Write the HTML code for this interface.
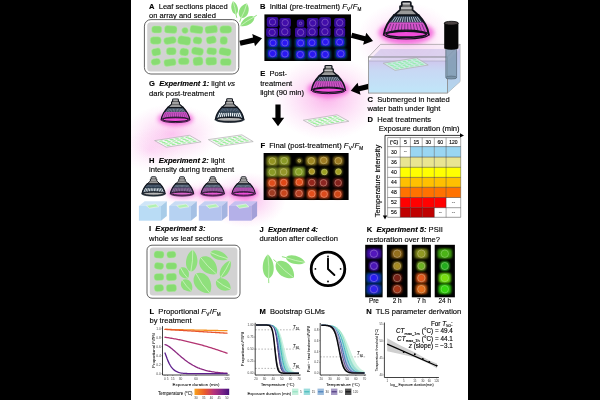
<!DOCTYPE html><html><head><meta charset="utf-8"><style>html,body{margin:0;padding:0;background:#000;}svg{display:block}text{font-family:"Liberation Sans",sans-serif;fill:#000;white-space:pre;stroke:#000;stroke-width:0.14px}text.t{stroke:none;fill:#3a3a3a}text.m{stroke-width:0.05px;fill:#111}</style></head><body>
<svg width="600" height="400" viewBox="0 0 600 400">
<defs>
<radialGradient id="gl"><stop offset="0" stop-color="#f65fd6" stop-opacity="0.46"/><stop offset="0.5" stop-color="#f67fdc" stop-opacity="0.24"/><stop offset="1" stop-color="#f8a0e4" stop-opacity="0"/></radialGradient>
<radialGradient id="gl2"><stop offset="0" stop-color="#ee30cc" stop-opacity="1"/><stop offset="0.55" stop-color="#f050d4" stop-opacity="0.75"/><stop offset="0.8" stop-color="#f488e0" stop-opacity="0.3"/><stop offset="1" stop-color="#f8a0e4" stop-opacity="0"/></radialGradient>
<filter id="b1" x="-30%" y="-30%" width="160%" height="160%"><feGaussianBlur stdDeviation="0.7"/></filter>
<filter id="b3" x="-50%" y="-80%" width="200%" height="260%"><feGaussianBlur stdDeviation="2.0"/></filter>
<filter id="b4" x="-30%" y="-30%" width="160%" height="160%"><feGaussianBlur stdDeviation="0.9"/></filter>
<filter id="b2" x="-30%" y="-30%" width="160%" height="160%"><feGaussianBlur stdDeviation="0.35"/></filter>
<clipPath id="cw"><rect x="131" y="0" width="337" height="400"/></clipPath>

<linearGradient id="lb0" x1="0" y1="0" x2="0" y2="1"><stop offset="0" stop-color="rgb(34, 50, 66)"/><stop offset="0.34" stop-color="rgb(38, 54, 72)"/><stop offset="0.46" stop-color="rgb(32, 52, 68)"/><stop offset="1" stop-color="rgb(32, 52, 68)"/></linearGradient>
<linearGradient id="lb25" x1="0" y1="0" x2="0" y2="1"><stop offset="0" stop-color="rgb(34, 50, 66)"/><stop offset="0.34" stop-color="rgb(38, 54, 72)"/><stop offset="0.46" stop-color="rgb(145, 72, 153)"/><stop offset="1" stop-color="rgb(145, 72, 153)"/></linearGradient>
<linearGradient id="lb50" x1="0" y1="0" x2="0" y2="1"><stop offset="0" stop-color="rgb(34, 50, 66)"/><stop offset="0.34" stop-color="rgb(38, 54, 72)"/><stop offset="0.46" stop-color="rgb(168, 76, 170)"/><stop offset="1" stop-color="rgb(168, 76, 170)"/></linearGradient>
<linearGradient id="lb60" x1="0" y1="0" x2="0" y2="1"><stop offset="0" stop-color="rgb(34, 50, 66)"/><stop offset="0.34" stop-color="rgb(38, 54, 72)"/><stop offset="0.46" stop-color="rgb(177, 77, 176)"/><stop offset="1" stop-color="rgb(177, 77, 176)"/></linearGradient>
<linearGradient id="lb80" x1="0" y1="0" x2="0" y2="1"><stop offset="0" stop-color="rgb(34, 50, 66)"/><stop offset="0.34" stop-color="rgb(38, 54, 72)"/><stop offset="0.46" stop-color="rgb(195, 80, 190)"/><stop offset="1" stop-color="rgb(195, 80, 190)"/></linearGradient>
<linearGradient id="lb85" x1="0" y1="0" x2="0" y2="1"><stop offset="0" stop-color="rgb(34, 50, 66)"/><stop offset="0.34" stop-color="rgb(38, 54, 72)"/><stop offset="0.46" stop-color="rgb(200, 81, 193)"/><stop offset="1" stop-color="rgb(200, 81, 193)"/></linearGradient>
<linearGradient id="lb100" x1="0" y1="0" x2="0" y2="1"><stop offset="0" stop-color="rgb(34, 50, 66)"/><stop offset="0.34" stop-color="rgb(38, 54, 72)"/><stop offset="0.46" stop-color="rgb(214, 84, 204)"/><stop offset="1" stop-color="rgb(214, 84, 204)"/></linearGradient>
</defs>
<rect width="600" height="400" fill="#000"/>
<rect x="131" y="0" width="337" height="400" fill="#fff"/>
<g clip-path="url(#cw)" opacity="0.999">
<ellipse cx="172" cy="134" rx="48" ry="30" fill="url(#gl)" opacity="0.8"/>
<ellipse cx="150" cy="150" rx="32" ry="22" fill="url(#gl)" opacity="0.4"/>
<ellipse cx="327" cy="98" rx="56" ry="42" fill="url(#gl)" opacity="1.0"/>
<ellipse cx="406" cy="40" rx="50" ry="38" fill="url(#gl)" opacity="0.8"/>
<ellipse cx="246" cy="200" rx="40" ry="28" fill="url(#gl)" opacity="1.0"/>
<ellipse cx="205" cy="196" rx="30" ry="18" fill="url(#gl)" opacity="0.5"/>
<ellipse cx="176" cy="194" rx="20" ry="12" fill="url(#gl)" opacity="0.35"/>
<text x="149" y="8.8" font-size="7.58" text-anchor="start" ><tspan font-weight="bold">A</tspan><tspan>  Leaf sections placed</tspan></text>
<text x="149" y="18.0" font-size="7.58" text-anchor="start" ><tspan>on array and sealed</tspan></text>
<rect x="144.4" y="19.6" width="94.4" height="54.4" rx="6.5" fill="#fff" stroke="#444" stroke-width="0.85"/>
<rect x="147.2" y="22.2" width="88.8" height="49.2" rx="3.5" fill="#d2d2d2"/>
<rect x="151.75" y="26.00" width="10.00" height="7.00" rx="2.64" fill="#88dc72" stroke="#b0eea0" stroke-width="0.5" transform="rotate(1.1 156.8 29.5)"/>
<rect x="164.50" y="25.75" width="12.50" height="7.50" rx="2.77" fill="#88dc72" stroke="#b0eea0" stroke-width="0.5" transform="rotate(2.5 170.8 29.5)"/>
<rect x="181.75" y="27.50" width="6.50" height="6.00" rx="3.03" fill="#88dc72" stroke="#b0eea0" stroke-width="0.5" transform="rotate(-10.4 185.0 30.5)"/>
<rect x="190.00" y="25.75" width="13.00" height="7.50" rx="2.41" fill="#88dc72" stroke="#b0eea0" stroke-width="0.5" transform="rotate(8.1 196.5 29.5)"/>
<rect x="205.00" y="25.75" width="12.50" height="7.50" rx="2.66" fill="#88dc72" stroke="#b0eea0" stroke-width="0.5" transform="rotate(-6.4 211.2 29.5)"/>
<rect x="219.75" y="25.75" width="12.00" height="7.50" rx="3.40" fill="#88dc72" stroke="#b0eea0" stroke-width="0.5" transform="rotate(-0.7 225.8 29.5)"/>
<rect x="150.25" y="36.75" width="11.00" height="7.50" rx="3.24" fill="#88dc72" stroke="#b0eea0" stroke-width="0.5" transform="rotate(-0.6 155.8 40.5)"/>
<rect x="163.75" y="37.00" width="12.50" height="7.00" rx="3.04" fill="#88dc72" stroke="#b0eea0" stroke-width="0.5" transform="rotate(-8.4 170.0 40.5)"/>
<rect x="177.75" y="36.25" width="13.00" height="8.50" rx="3.03" fill="#88dc72" stroke="#b0eea0" stroke-width="0.5" transform="rotate(8.8 184.2 40.5)"/>
<rect x="193.00" y="37.00" width="9.00" height="7.00" rx="2.92" fill="#88dc72" stroke="#b0eea0" stroke-width="0.5" transform="rotate(5.8 197.5 40.5)"/>
<rect x="206.25" y="36.25" width="10.00" height="7.50" rx="3.07" fill="#88dc72" stroke="#b0eea0" stroke-width="0.5" transform="rotate(-10.5 211.2 40.0)"/>
<rect x="220.00" y="36.50" width="7.50" height="8.00" rx="3.16" fill="#88dc72" stroke="#b0eea0" stroke-width="0.5" transform="rotate(2.2 223.8 40.5)"/>
<rect x="151.75" y="48.25" width="9.00" height="7.50" rx="2.70" fill="#88dc72" stroke="#b0eea0" stroke-width="0.5" transform="rotate(-11.3 156.2 52.0)"/>
<rect x="166.25" y="47.50" width="10.00" height="7.50" rx="3.27" fill="#88dc72" stroke="#b0eea0" stroke-width="0.5" transform="rotate(-0.7 171.2 51.2)"/>
<rect x="179.75" y="48.25" width="9.00" height="7.50" rx="3.12" fill="#88dc72" stroke="#b0eea0" stroke-width="0.5" transform="rotate(9.1 184.2 52.0)"/>
<rect x="191.50" y="47.50" width="12.00" height="7.50" rx="3.11" fill="#88dc72" stroke="#b0eea0" stroke-width="0.5" transform="rotate(10.1 197.5 51.2)"/>
<rect x="206.75" y="47.75" width="10.00" height="7.00" rx="2.79" fill="#88dc72" stroke="#b0eea0" stroke-width="0.5" transform="rotate(7.2 211.8 51.2)"/>
<rect x="219.00" y="48.00" width="12.00" height="7.50" rx="2.84" fill="#88dc72" stroke="#b0eea0" stroke-width="0.5" transform="rotate(10.5 225.0 51.8)"/>
<rect x="151.00" y="58.50" width="9.50" height="6.50" rx="3.28" fill="#88dc72" stroke="#b0eea0" stroke-width="0.5" transform="rotate(-9.7 155.8 61.8)"/>
<rect x="164.00" y="59.00" width="12.00" height="7.00" rx="2.54" fill="#88dc72" stroke="#b0eea0" stroke-width="0.5" transform="rotate(-6.8 170.0 62.5)"/>
<rect x="178.25" y="57.75" width="11.00" height="7.00" rx="3.37" fill="#88dc72" stroke="#b0eea0" stroke-width="0.5" transform="rotate(-1.5 183.8 61.2)"/>
<rect x="193.00" y="57.00" width="10.00" height="8.50" rx="3.03" fill="#88dc72" stroke="#b0eea0" stroke-width="0.5" transform="rotate(-4.8 198.0 61.2)"/>
<rect x="205.75" y="57.25" width="11.00" height="8.00" rx="2.91" fill="#88dc72" stroke="#b0eea0" stroke-width="0.5" transform="rotate(-2.7 211.2 61.2)"/>
<rect x="220.25" y="58.50" width="11.00" height="7.00" rx="2.75" fill="#88dc72" stroke="#b0eea0" stroke-width="0.5" transform="rotate(2.0 225.8 62.0)"/>
<g transform="translate(234.5,7.8) rotate(-102.8)">
<line x1="-10.25" y1="0" x2="-5.75" y2="0" stroke="#8fe07c" stroke-width="0.9"/>
<path d="M-6.75,0 C-5.13,-4.4639999999999995 3.6450000000000005,-4.0920000000000005 6.75,0 C3.6450000000000005,4.0920000000000005 -5.13,4.4639999999999995 -6.75,0 Z" fill="#8fe07c"/>
<path d="M-6.75,0 Q0,0.744 6.75,0" stroke="#d4f5c8" stroke-width="0.7" fill="none"/>
</g>
<g transform="translate(244,10.7) rotate(-68.7)">
<line x1="-11.85" y1="0" x2="-6.85" y2="0" stroke="#8fe07c" stroke-width="0.9"/>
<path d="M-7.85,0 C-5.966,-6.4799999999999995 4.239,-5.94 7.85,0 C4.239,5.94 -5.966,6.4799999999999995 -7.85,0 Z" fill="#8fe07c"/>
<path d="M-7.85,0 Q0,1.08 7.85,0" stroke="#d4f5c8" stroke-width="0.7" fill="none"/>
</g>
<g transform="translate(247.3,21.4) rotate(147)">
<line x1="-11.25" y1="0" x2="-7.25" y2="0" stroke="#8fe07c" stroke-width="0.9"/>
<path d="M-8.25,0 C-6.2700000000000005,-5.04 4.455,-4.62 8.25,0 C4.455,4.62 -6.2700000000000005,5.04 -8.25,0 Z" fill="#8fe07c"/>
<path d="M-8.25,0 Q0,0.84 8.25,0" stroke="#d4f5c8" stroke-width="0.7" fill="none"/>
</g>
<polygon points="240.58,45.74 254.19,42.64 255.00,46.20 262.00,38.20 252.23,34.01 253.04,37.57 239.42,40.66" fill="#000"/>
<polygon points="350.83,37.81 364.02,41.31 363.09,44.84 373.00,41.00 366.29,32.75 365.35,36.28 352.17,32.79" fill="#000"/>
<polygon points="372.40,82.87 358.47,86.18 357.62,82.63 350.70,90.70 360.51,94.79 359.67,91.24 373.60,87.93" fill="#000"/>
<polygon points="275.40,104.50 275.40,117.70 271.80,117.70 278.00,126.30 284.20,117.70 280.60,117.70 280.60,104.50" fill="#000"/>
<text x="260" y="8.6" font-size="7.58" text-anchor="start" ><tspan font-weight="bold">B</tspan><tspan>  Initial (pre-treatment) </tspan><tspan font-style="italic">F</tspan><tspan font-size="4.70" dy="1.97" dx="0.23">V</tspan><tspan dy="-1.97" dx="0.45">/</tspan><tspan font-style="italic">F</tspan><tspan font-size="4.70" dy="1.97" dx="0.23">M</tspan></text>
<rect x="264.4" y="14.4" width="86.6" height="46.6" fill="#000"/>
<defs><clipPath id="cb"><rect x="264.4" y="14.4" width="86.6" height="46.6"/></clipPath><clipPath id="cf"><rect x="263.6" y="153" width="85" height="47"/></clipPath></defs><g clip-path="url(#cb)">
<rect x="266.76" y="16.99" width="11.55" height="9.94" rx="2.2" fill="#340d98" filter="url(#b1)"/>
<circle cx="272.53" cy="21.97" r="3.6" fill="#4211ac" filter="url(#b4)"/>
<circle cx="272.53" cy="21.97" r="3.2" fill="none" stroke="#b484d8" stroke-width="0.45"/>
<rect x="279.40" y="17.99" width="11.54" height="9.33" rx="2.2" fill="#340d98" filter="url(#b1)"/>
<circle cx="285.17" cy="22.65" r="3.6" fill="#4211ac" filter="url(#b4)"/>
<circle cx="285.17" cy="22.65" r="3.2" fill="none" stroke="#b484d8" stroke-width="0.45"/>
<rect x="296.78" y="19.50" width="7.60" height="7.60" rx="2.2" fill="#340d98" filter="url(#b1)"/>
<circle cx="300.58" cy="23.30" r="1.3" fill="none" stroke="#b484d8" stroke-width="0.45"/>
<rect x="306.86" y="18.07" width="11.76" height="9.66" rx="2.2" fill="#340d98" filter="url(#b1)"/>
<circle cx="312.74" cy="22.90" r="3.6" fill="#4211ac" filter="url(#b4)"/>
<circle cx="312.74" cy="22.90" r="3.2" fill="none" stroke="#b484d8" stroke-width="0.45"/>
<rect x="319.16" y="17.29" width="11.80" height="9.99" rx="2.2" fill="#340d98" filter="url(#b1)"/>
<circle cx="325.06" cy="22.29" r="3.6" fill="#4211ac" filter="url(#b4)"/>
<circle cx="325.06" cy="22.29" r="3.2" fill="none" stroke="#b484d8" stroke-width="0.45"/>
<rect x="334.15" y="18.05" width="11.17" height="9.32" rx="2.2" fill="#340d98" filter="url(#b1)"/>
<circle cx="339.74" cy="22.71" r="3.6" fill="#4211ac" filter="url(#b4)"/>
<circle cx="339.74" cy="22.71" r="3.2" fill="none" stroke="#b484d8" stroke-width="0.45"/>
<rect x="266.16" y="27.76" width="11.82" height="9.24" rx="2.2" fill="#340d98" filter="url(#b1)"/>
<circle cx="272.07" cy="32.38" r="3.6" fill="#4211ac" filter="url(#b4)"/>
<circle cx="272.07" cy="32.38" r="3.2" fill="none" stroke="#b484d8" stroke-width="0.45"/>
<rect x="278.98" y="27.01" width="11.61" height="9.46" rx="2.2" fill="#340d98" filter="url(#b1)"/>
<circle cx="284.78" cy="31.74" r="3.6" fill="#4211ac" filter="url(#b4)"/>
<circle cx="284.78" cy="31.74" r="3.2" fill="none" stroke="#b484d8" stroke-width="0.45"/>
<rect x="294.96" y="27.41" width="11.31" height="10.00" rx="2.2" fill="#340d98" filter="url(#b1)"/>
<circle cx="300.61" cy="32.41" r="3.6" fill="#4211ac" filter="url(#b4)"/>
<circle cx="300.61" cy="32.41" r="3.2" fill="none" stroke="#b484d8" stroke-width="0.45"/>
<rect x="306.38" y="27.21" width="11.44" height="9.23" rx="2.2" fill="#340d98" filter="url(#b1)"/>
<circle cx="312.10" cy="31.82" r="3.6" fill="#4211ac" filter="url(#b4)"/>
<circle cx="312.10" cy="31.82" r="3.2" fill="none" stroke="#b484d8" stroke-width="0.45"/>
<rect x="319.19" y="27.03" width="11.45" height="9.32" rx="2.2" fill="#340d98" filter="url(#b1)"/>
<circle cx="324.92" cy="31.69" r="3.6" fill="#4211ac" filter="url(#b4)"/>
<circle cx="324.92" cy="31.69" r="3.2" fill="none" stroke="#b484d8" stroke-width="0.45"/>
<rect x="334.15" y="27.22" width="11.04" height="9.97" rx="2.2" fill="#340d98" filter="url(#b1)"/>
<circle cx="339.67" cy="32.21" r="3.6" fill="#4211ac" filter="url(#b4)"/>
<circle cx="339.67" cy="32.21" r="3.2" fill="none" stroke="#b484d8" stroke-width="0.45"/>
<rect x="267.21" y="37.82" width="11.64" height="10.02" rx="2" fill="#06406a" filter="url(#b4)"/>
<rect x="268.51" y="39.02" width="9.04" height="7.62" rx="2.2" fill="#1a20d0" filter="url(#b1)"/>
<circle cx="273.03" cy="42.83" r="3.6" fill="#2c14f4" filter="url(#b4)"/>
<circle cx="273.03" cy="42.83" r="3.0" fill="none" stroke="#a890e8" stroke-width="0.45"/>
<rect x="278.94" y="37.91" width="11.78" height="10.10" rx="2" fill="#06406a" filter="url(#b4)"/>
<rect x="280.24" y="39.11" width="9.18" height="7.70" rx="2.2" fill="#1a20d0" filter="url(#b1)"/>
<circle cx="284.83" cy="42.96" r="3.6" fill="#2c14f4" filter="url(#b4)"/>
<circle cx="284.83" cy="42.96" r="3.0" fill="none" stroke="#a890e8" stroke-width="0.45"/>
<rect x="294.90" y="37.88" width="11.60" height="10.18" rx="2" fill="#06406a" filter="url(#b4)"/>
<rect x="296.20" y="39.08" width="9.00" height="7.78" rx="2.2" fill="#1a20d0" filter="url(#b1)"/>
<circle cx="300.70" cy="42.97" r="3.6" fill="#2c14f4" filter="url(#b4)"/>
<circle cx="300.70" cy="42.97" r="3.0" fill="none" stroke="#a890e8" stroke-width="0.45"/>
<rect x="305.80" y="37.69" width="12.37" height="10.02" rx="2" fill="#06406a" filter="url(#b4)"/>
<rect x="307.10" y="38.89" width="9.77" height="7.62" rx="2.2" fill="#1a20d0" filter="url(#b1)"/>
<circle cx="311.98" cy="42.69" r="3.6" fill="#2c14f4" filter="url(#b4)"/>
<circle cx="311.98" cy="42.69" r="3.0" fill="none" stroke="#a890e8" stroke-width="0.45"/>
<rect x="319.69" y="36.98" width="11.58" height="10.06" rx="2" fill="#06406a" filter="url(#b4)"/>
<rect x="320.99" y="38.18" width="8.98" height="7.66" rx="2.2" fill="#1a20d0" filter="url(#b1)"/>
<circle cx="325.48" cy="42.01" r="3.6" fill="#2c14f4" filter="url(#b4)"/>
<circle cx="325.48" cy="42.01" r="3.0" fill="none" stroke="#a890e8" stroke-width="0.45"/>
<rect x="333.69" y="37.35" width="11.89" height="9.65" rx="2" fill="#06406a" filter="url(#b4)"/>
<rect x="334.99" y="38.55" width="9.29" height="7.25" rx="2.2" fill="#1a20d0" filter="url(#b1)"/>
<circle cx="339.63" cy="42.17" r="3.6" fill="#2c14f4" filter="url(#b4)"/>
<circle cx="339.63" cy="42.17" r="3.0" fill="none" stroke="#a890e8" stroke-width="0.45"/>
<rect x="266.63" y="48.61" width="11.95" height="9.88" rx="2" fill="#06406a" filter="url(#b4)"/>
<rect x="267.93" y="49.81" width="9.35" height="7.48" rx="2.2" fill="#1a20d0" filter="url(#b1)"/>
<circle cx="272.60" cy="53.55" r="3.6" fill="#2c14f4" filter="url(#b4)"/>
<circle cx="272.60" cy="53.55" r="3.2" fill="none" stroke="#a890e8" stroke-width="0.45"/>
<rect x="279.42" y="49.06" width="11.03" height="9.65" rx="2" fill="#06406a" filter="url(#b4)"/>
<rect x="280.72" y="50.26" width="8.43" height="7.25" rx="2.2" fill="#1a20d0" filter="url(#b1)"/>
<circle cx="284.93" cy="53.89" r="3.6" fill="#2c14f4" filter="url(#b4)"/>
<circle cx="284.93" cy="53.89" r="3.2" fill="none" stroke="#a890e8" stroke-width="0.45"/>
<rect x="294.61" y="49.55" width="11.35" height="9.97" rx="2" fill="#06406a" filter="url(#b4)"/>
<rect x="295.91" y="50.75" width="8.75" height="7.57" rx="2.2" fill="#1a20d0" filter="url(#b1)"/>
<circle cx="300.28" cy="54.53" r="3.6" fill="#2c14f4" filter="url(#b4)"/>
<circle cx="300.28" cy="54.53" r="3.2" fill="none" stroke="#a890e8" stroke-width="0.45"/>
<rect x="306.79" y="49.36" width="11.51" height="9.85" rx="2" fill="#06406a" filter="url(#b4)"/>
<rect x="308.09" y="50.56" width="8.91" height="7.45" rx="2.2" fill="#1a20d0" filter="url(#b1)"/>
<circle cx="312.55" cy="54.28" r="3.6" fill="#2c14f4" filter="url(#b4)"/>
<circle cx="312.55" cy="54.28" r="3.2" fill="none" stroke="#a890e8" stroke-width="0.45"/>
<rect x="319.48" y="49.47" width="11.42" height="9.90" rx="2" fill="#06406a" filter="url(#b4)"/>
<rect x="320.78" y="50.67" width="8.82" height="7.50" rx="2.2" fill="#1a20d0" filter="url(#b1)"/>
<circle cx="325.19" cy="54.42" r="3.6" fill="#2c14f4" filter="url(#b4)"/>
<circle cx="325.19" cy="54.42" r="3.2" fill="none" stroke="#a890e8" stroke-width="0.45"/>
<rect x="334.94" y="48.66" width="11.80" height="10.19" rx="2" fill="#06406a" filter="url(#b4)"/>
<rect x="336.24" y="49.86" width="9.20" height="7.79" rx="2.2" fill="#1a20d0" filter="url(#b1)"/>
<circle cx="340.84" cy="53.75" r="3.6" fill="#2c14f4" filter="url(#b4)"/>
<circle cx="340.84" cy="53.75" r="3.2" fill="none" stroke="#a890e8" stroke-width="0.45"/>
</g>
<defs><linearGradient id="lg1" x1="0" y1="0" x2="0" y2="1"><stop offset="0" stop-color="rgb(34, 50, 66)"/><stop offset="0.33" stop-color="rgb(38, 54, 72)"/><stop offset="0.43" stop-color="rgb(214, 84, 204)"/><stop offset="1" stop-color="rgb(214, 84, 204)"/></linearGradient></defs>
<ellipse cx="406.3" cy="32.8" rx="27.90" ry="11.25" fill="#f258d8" opacity="0.80" filter="url(#b3)"/>
<path d="M394.2,14.900000000000002 C389.8,19.6 384.90000000000003,26.400000000000002 383.90000000000003,34.4 L428.7,34.4 C427.7,26.400000000000002 422.8,19.6 418.40000000000003,14.900000000000002 Z" fill="url(#lg1)" stroke="#10141c" stroke-width="2.00"/>
<path d="M395.48,16.80 L391.82,22.00 M397.45,16.80 L394.45,22.00 M399.42,16.80 L397.08,22.00 M401.38,16.80 L399.72,22.00 M403.35,16.80 L402.35,22.00 M405.32,16.80 L404.98,22.00 M407.28,16.80 L407.62,22.00 M409.25,16.80 L410.25,22.00 M411.22,16.80 L412.88,22.00 M413.18,16.80 L415.52,22.00 M415.15,16.80 L418.15,22.00 M417.12,16.80 L420.78,22.00 " fill="none" stroke="rgb(176,186,204)" stroke-width="1.00"/>
<path d="M390.90,23.80 L387.60,31.80 M393.70,23.80 L391.00,31.80 M396.50,23.80 L394.40,31.80 M399.30,23.80 L397.80,31.80 M402.10,23.80 L401.20,31.80 M404.90,23.80 L404.60,31.80 M407.70,23.80 L408.00,31.80 M410.50,23.80 L411.40,31.80 M413.30,23.80 L414.80,31.80 M416.10,23.80 L418.20,31.80 M418.90,23.80 L421.60,31.80 M421.70,23.80 L425.00,31.80 " fill="none" stroke="rgb(120, 50, 130)" stroke-width="1.00"/>
<path d="M394.2,15.200000000000001 L400.1,9.8 L400.1,6.4 L401.8,5.8 L401.8,2.8 Q401.8,1.8 403.1,1.8 L409.5,1.8 Q410.8,1.8 410.8,2.8 L410.8,5.8 L412.5,6.4 L412.5,9.8 L418.40000000000003,15.200000000000001 Z" fill="#9a9a9a" stroke="#10141c" stroke-width="1.80" stroke-linejoin="round"/>
<path d="M401.8,6.0 L410.8,6.0 M400.1,10.000000000000002 L412.5,10.000000000000002" stroke="#3a3a3a" stroke-width="1.10" fill="none"/>
<path d="M402.7,3.4000000000000004 L409.90000000000003,3.4000000000000004 M401.1,8.200000000000001 L411.5,8.200000000000001" stroke="#c8c8c8" stroke-width="1.20" fill="none"/>
<ellipse cx="406.3" cy="34.6" rx="22.40" ry="4.40" fill="rgb(205,44,186)" stroke="#10141c" stroke-width="1.20"/>
<ellipse cx="406.3" cy="34.199999999999996" rx="20.00" ry="2.90" fill="rgb(240,76,218)" stroke="#10141c" stroke-width="1.60"/>
<polygon points="368.4,57 380.5,44.4 460,44.4 447.4,57" fill="#f6e4f4" fill-opacity="0.55" stroke="#8a8a8a" stroke-width="0.6"/>
<defs><linearGradient id="wat" x1="0" y1="0" x2="0" y2="1"><stop offset="0" stop-color="#cfc8ee"/><stop offset="0.3" stop-color="#c8d8f4"/><stop offset="1" stop-color="#c0e6f9"/></linearGradient><linearGradient id="wat2" x1="0" y1="0" x2="0" y2="1"><stop offset="0" stop-color="#b8b8e4"/><stop offset="1" stop-color="#a8d4ec"/></linearGradient></defs>
<polygon points="447.4,57 460,44.4 460,81.6 447.4,93" fill="#e8e0f0" fill-opacity="0.6" stroke="#8a8a8a" stroke-width="0.6"/>
<polygon points="447.4,61 460,48.6 460,81.6 447.4,93" fill="url(#wat2)" fill-opacity="0.85"/>
<rect x="368.4" y="57" width="79" height="36" fill="#fff" fill-opacity="0.3" stroke="#8a8a8a" stroke-width="0.6"/>
<rect x="368.7" y="61" width="78.4" height="31.7" fill="url(#wat)"/>
<polygon points="368.4,61 380.5,49 460,49 447.4,61" fill="#c4bce8" fill-opacity="0.55"/>
<line x1="368.4" y1="61" x2="447.4" y2="61" stroke="#9a9ab0" stroke-width="0.5"/>
<g transform="matrix(33.19999999999999,-5.400000000000006,11.800000000000011,7.200000000000003,383.2,63.2)">
<rect x="0" y="0" width="1" height="1" fill="#cdeae4" stroke="#aaa" stroke-width="0.025"/>
<rect x="0.076" y="0.121" width="0.099" height="0.143" rx="0.018" ry="0.041" fill="#96ecb0"/>
<rect x="0.076" y="0.326" width="0.099" height="0.143" rx="0.018" ry="0.041" fill="#96ecb0"/>
<rect x="0.076" y="0.531" width="0.099" height="0.143" rx="0.018" ry="0.041" fill="#96ecb0"/>
<rect x="0.076" y="0.736" width="0.099" height="0.143" rx="0.018" ry="0.041" fill="#96ecb0"/>
<rect x="0.226" y="0.121" width="0.099" height="0.143" rx="0.018" ry="0.041" fill="#96ecb0"/>
<rect x="0.226" y="0.326" width="0.099" height="0.143" rx="0.018" ry="0.041" fill="#96ecb0"/>
<rect x="0.226" y="0.531" width="0.099" height="0.143" rx="0.018" ry="0.041" fill="#96ecb0"/>
<rect x="0.226" y="0.736" width="0.099" height="0.143" rx="0.018" ry="0.041" fill="#96ecb0"/>
<rect x="0.376" y="0.121" width="0.099" height="0.143" rx="0.018" ry="0.041" fill="#96ecb0"/>
<rect x="0.376" y="0.326" width="0.099" height="0.143" rx="0.018" ry="0.041" fill="#96ecb0"/>
<rect x="0.376" y="0.531" width="0.099" height="0.143" rx="0.018" ry="0.041" fill="#96ecb0"/>
<rect x="0.376" y="0.736" width="0.099" height="0.143" rx="0.018" ry="0.041" fill="#96ecb0"/>
<rect x="0.525" y="0.121" width="0.099" height="0.143" rx="0.018" ry="0.041" fill="#96ecb0"/>
<rect x="0.525" y="0.326" width="0.099" height="0.143" rx="0.018" ry="0.041" fill="#96ecb0"/>
<rect x="0.525" y="0.531" width="0.099" height="0.143" rx="0.018" ry="0.041" fill="#96ecb0"/>
<rect x="0.525" y="0.736" width="0.099" height="0.143" rx="0.018" ry="0.041" fill="#96ecb0"/>
<rect x="0.675" y="0.121" width="0.099" height="0.143" rx="0.018" ry="0.041" fill="#96ecb0"/>
<rect x="0.675" y="0.326" width="0.099" height="0.143" rx="0.018" ry="0.041" fill="#96ecb0"/>
<rect x="0.675" y="0.531" width="0.099" height="0.143" rx="0.018" ry="0.041" fill="#96ecb0"/>
<rect x="0.675" y="0.736" width="0.099" height="0.143" rx="0.018" ry="0.041" fill="#96ecb0"/>
<rect x="0.826" y="0.121" width="0.099" height="0.143" rx="0.018" ry="0.041" fill="#96ecb0"/>
<rect x="0.826" y="0.326" width="0.099" height="0.143" rx="0.018" ry="0.041" fill="#96ecb0"/>
<rect x="0.826" y="0.531" width="0.099" height="0.143" rx="0.018" ry="0.041" fill="#96ecb0"/>
<rect x="0.826" y="0.736" width="0.099" height="0.143" rx="0.018" ry="0.041" fill="#96ecb0"/>
</g>
<rect x="368.4" y="57" width="79" height="36" fill="none" stroke="#8a8a8a" stroke-width="0.6"/>
<rect x="445.8" y="46" width="10.8" height="32.4" rx="1.5" fill="#7c98ae" fill-opacity="0.8" stroke="#4a5a68" stroke-width="0.6"/>
<ellipse cx="451.2" cy="77.6" rx="5.4" ry="1.5" fill="#7a94a8" stroke="#4a5a68" stroke-width="0.5"/>
<path d="M444.2,23.3 L444.2,48.4 Q451.2,51.2 458.4,48.4 L458.4,23.3 Z" fill="#050505"/>
<ellipse cx="451.3" cy="23.2" rx="7.1" ry="1.9" fill="#4a4242" stroke="#050505" stroke-width="0.8"/>
<text x="367.5" y="101.9" font-size="7.58" text-anchor="start" ><tspan font-weight="bold">C</tspan><tspan>  Submerged in heated</tspan></text>
<text x="367.5" y="111.1" font-size="7.58" text-anchor="start" ><tspan>water bath under light</tspan></text>
<text x="367.5" y="121.7" font-size="7.58" text-anchor="start" ><tspan font-weight="bold">D</tspan><tspan>  Heat treatments</tspan></text>
<text x="378.7" y="131.0" font-size="7.58" text-anchor="start" ><tspan>Exposure duration (min)</tspan></text>
<line x1="385" y1="135.4" x2="461.5" y2="135.4" stroke="#000" stroke-width="0.8"/><polygon points="464,135.4 460,133.2 460,137.6" fill="#000"/>
<line x1="385" y1="135.4" x2="385" y2="217" stroke="#000" stroke-width="0.8"/><polygon points="385,219.6 382.8,215.6 387.2,215.6" fill="#000"/>
<text transform="translate(379.8,181) rotate(-90)" font-size="7.58" text-anchor="middle">Temperature intensity</text>
<rect x="387.6" y="137.6" width="73.09999999999997" height="79.70000000000002" fill="#fff"/>
<text x="405.29999999999995" y="153.25" font-size="4.6" text-anchor="middle"  class="m"><tspan>--</tspan></text>
<rect x="410.4" y="146.6" width="11.800000000000011" height="10.5" fill="#9ad6f2"/>
<rect x="422.2" y="146.6" width="12.100000000000023" height="10.5" fill="#9ad6f2"/>
<rect x="434.3" y="146.6" width="11.800000000000011" height="10.5" fill="#9ad6f2"/>
<rect x="446.1" y="146.6" width="14.599999999999966" height="10.5" fill="#9ad6f2"/>
<rect x="400.2" y="157.1" width="10.199999999999989" height="10.200000000000017" fill="#e9e592"/>
<rect x="410.4" y="157.1" width="11.800000000000011" height="10.200000000000017" fill="#e9e592"/>
<rect x="422.2" y="157.1" width="12.100000000000023" height="10.200000000000017" fill="#e9e592"/>
<rect x="434.3" y="157.1" width="11.800000000000011" height="10.200000000000017" fill="#e9e592"/>
<rect x="446.1" y="157.1" width="14.599999999999966" height="10.200000000000017" fill="#e9e592"/>
<rect x="400.2" y="167.3" width="10.199999999999989" height="10.099999999999994" fill="#ffff00"/>
<rect x="410.4" y="167.3" width="11.800000000000011" height="10.099999999999994" fill="#ffff00"/>
<rect x="422.2" y="167.3" width="12.100000000000023" height="10.099999999999994" fill="#ffff00"/>
<rect x="434.3" y="167.3" width="11.800000000000011" height="10.099999999999994" fill="#ffff00"/>
<rect x="446.1" y="167.3" width="14.599999999999966" height="10.099999999999994" fill="#ffff00"/>
<rect x="400.2" y="177.4" width="10.199999999999989" height="9.900000000000006" fill="#ffc000"/>
<rect x="410.4" y="177.4" width="11.800000000000011" height="9.900000000000006" fill="#ffc000"/>
<rect x="422.2" y="177.4" width="12.100000000000023" height="9.900000000000006" fill="#ffc000"/>
<rect x="434.3" y="177.4" width="11.800000000000011" height="9.900000000000006" fill="#ffc000"/>
<rect x="446.1" y="177.4" width="14.599999999999966" height="9.900000000000006" fill="#ffc000"/>
<rect x="400.2" y="187.3" width="10.199999999999989" height="10.199999999999989" fill="#ff7200"/>
<rect x="410.4" y="187.3" width="11.800000000000011" height="10.199999999999989" fill="#ff7200"/>
<rect x="422.2" y="187.3" width="12.100000000000023" height="10.199999999999989" fill="#ff7200"/>
<rect x="434.3" y="187.3" width="11.800000000000011" height="10.199999999999989" fill="#ff7200"/>
<rect x="446.1" y="187.3" width="14.599999999999966" height="10.199999999999989" fill="#ff7200"/>
<rect x="400.2" y="197.5" width="10.199999999999989" height="10.199999999999989" fill="#ff0000"/>
<rect x="410.4" y="197.5" width="11.800000000000011" height="10.199999999999989" fill="#ff0000"/>
<rect x="422.2" y="197.5" width="12.100000000000023" height="10.199999999999989" fill="#ff0000"/>
<rect x="434.3" y="197.5" width="11.800000000000011" height="10.199999999999989" fill="#ff0000"/>
<text x="453.4" y="204.0" font-size="4.6" text-anchor="middle"  class="m"><tspan>--</tspan></text>
<rect x="400.2" y="207.7" width="10.199999999999989" height="9.600000000000023" fill="#c00000"/>
<rect x="410.4" y="207.7" width="11.800000000000011" height="9.600000000000023" fill="#c00000"/>
<rect x="422.2" y="207.7" width="12.100000000000023" height="9.600000000000023" fill="#c00000"/>
<text x="440.20000000000005" y="213.9" font-size="4.6" text-anchor="middle"  class="m"><tspan>--</tspan></text>
<text x="453.4" y="213.9" font-size="4.6" text-anchor="middle"  class="m"><tspan>--</tspan></text>
<line x1="387.6" y1="137.6" x2="387.6" y2="217.3" stroke="#333" stroke-width="0.4"/>
<line x1="400.2" y1="137.6" x2="400.2" y2="217.3" stroke="#333" stroke-width="0.4"/>
<line x1="410.4" y1="137.6" x2="410.4" y2="217.3" stroke="#333" stroke-width="0.4"/>
<line x1="422.2" y1="137.6" x2="422.2" y2="217.3" stroke="#333" stroke-width="0.4"/>
<line x1="434.3" y1="137.6" x2="434.3" y2="217.3" stroke="#333" stroke-width="0.4"/>
<line x1="446.1" y1="137.6" x2="446.1" y2="217.3" stroke="#333" stroke-width="0.4"/>
<line x1="460.7" y1="137.6" x2="460.7" y2="217.3" stroke="#333" stroke-width="0.4"/>
<line x1="387.6" y1="137.6" x2="460.7" y2="137.6" stroke="#222" stroke-width="0.45"/>
<line x1="387.6" y1="146.6" x2="460.7" y2="146.6" stroke="#222" stroke-width="0.45"/>
<line x1="387.6" y1="157.1" x2="460.7" y2="157.1" stroke="#222" stroke-width="0.45"/>
<line x1="387.6" y1="167.3" x2="460.7" y2="167.3" stroke="#222" stroke-width="0.45"/>
<line x1="387.6" y1="177.4" x2="460.7" y2="177.4" stroke="#222" stroke-width="0.45"/>
<line x1="387.6" y1="187.3" x2="460.7" y2="187.3" stroke="#222" stroke-width="0.45"/>
<line x1="387.6" y1="197.5" x2="460.7" y2="197.5" stroke="#222" stroke-width="0.45"/>
<line x1="387.6" y1="207.7" x2="460.7" y2="207.7" stroke="#222" stroke-width="0.45"/>
<line x1="387.6" y1="217.3" x2="460.7" y2="217.3" stroke="#222" stroke-width="0.45"/>
<text x="393.9" y="143.79999999999998" font-size="4.5" text-anchor="middle" style="stroke-width:0.1px" class="m"><tspan font-weight="bold">(°C)</tspan></text>
<text x="405.29999999999995" y="144.0" font-size="5.0" text-anchor="middle" style="stroke-width:0.12px"><tspan>5</tspan></text>
<text x="416.29999999999995" y="144.0" font-size="5.0" text-anchor="middle" style="stroke-width:0.12px"><tspan>15</tspan></text>
<text x="428.25" y="144.0" font-size="5.0" text-anchor="middle" style="stroke-width:0.12px"><tspan>30</tspan></text>
<text x="440.20000000000005" y="144.0" font-size="5.0" text-anchor="middle" style="stroke-width:0.12px"><tspan>60</tspan></text>
<text x="453.4" y="144.0" font-size="5.0" text-anchor="middle" style="stroke-width:0.12px"><tspan>120</tspan></text>
<text x="393.9" y="153.65" font-size="5.0" text-anchor="middle" style="stroke-width:0.12px"><tspan>30</tspan></text>
<text x="393.9" y="164.0" font-size="5.0" text-anchor="middle" style="stroke-width:0.12px"><tspan>36</tspan></text>
<text x="393.9" y="174.15000000000003" font-size="5.0" text-anchor="middle" style="stroke-width:0.12px"><tspan>40</tspan></text>
<text x="393.9" y="184.15000000000003" font-size="5.0" text-anchor="middle" style="stroke-width:0.12px"><tspan>44</tspan></text>
<text x="393.9" y="194.20000000000002" font-size="5.0" text-anchor="middle" style="stroke-width:0.12px"><tspan>48</tspan></text>
<text x="393.9" y="204.4" font-size="5.0" text-anchor="middle" style="stroke-width:0.12px"><tspan>52</tspan></text>
<text x="393.9" y="214.3" font-size="5.0" text-anchor="middle" style="stroke-width:0.12px"><tspan>56</tspan></text>
<text x="260.2" y="76.4" font-size="7.58" text-anchor="start" ><tspan font-weight="bold">E</tspan><tspan>  Post-</tspan></text>
<text x="260.2" y="85.7" font-size="7.58" text-anchor="start" ><tspan>treatment</tspan></text>
<text x="260.2" y="94.6" font-size="7.58" text-anchor="start" ><tspan>light (90 min)</tspan></text>
<defs><linearGradient id="lg2" x1="0" y1="0" x2="0" y2="1"><stop offset="0" stop-color="rgb(34, 50, 66)"/><stop offset="0.33" stop-color="rgb(38, 54, 72)"/><stop offset="0.43" stop-color="rgb(214, 84, 204)"/><stop offset="1" stop-color="rgb(214, 84, 204)"/></linearGradient></defs>
<ellipse cx="328.5" cy="89.02222222222221" rx="21.08" ry="8.50" fill="#f258d8" opacity="0.80" filter="url(#b3)"/>
<path d="M319.35777777777776,75.49777777777777 C316.03333333333336,79.04888888888888 312.3311111111111,84.18666666666667 311.5755555555556,90.2311111111111 L345.4244444444444,90.2311111111111 C344.6688888888889,84.18666666666667 340.96666666666664,79.04888888888888 337.64222222222224,75.49777777777777 Z" fill="url(#lg2)" stroke="#10141c" stroke-width="1.51"/>
<path d="M320.33,76.93 L317.56,80.86 M321.81,76.93 L319.55,80.86 M323.30,76.93 L321.54,80.86 M324.79,76.93 L323.53,80.86 M326.27,76.93 L325.52,80.86 M327.76,76.93 L327.51,80.86 M329.24,76.93 L329.49,80.86 M330.73,76.93 L331.48,80.86 M332.21,76.93 L333.47,80.86 M333.70,76.93 L335.46,80.86 M335.19,76.93 L337.45,80.86 M336.67,76.93 L339.44,80.86 " fill="none" stroke="rgb(176,186,204)" stroke-width="0.76"/>
<path d="M316.86,82.22 L314.37,88.27 M318.98,82.22 L316.94,88.27 M321.10,82.22 L319.51,88.27 M323.21,82.22 L322.08,88.27 M325.33,82.22 L324.65,88.27 M327.44,82.22 L327.22,88.27 M329.56,82.22 L329.78,88.27 M331.67,82.22 L332.35,88.27 M333.79,82.22 L334.92,88.27 M335.90,82.22 L337.49,88.27 M338.02,82.22 L340.06,88.27 M340.14,82.22 L342.63,88.27 " fill="none" stroke="rgb(120, 50, 130)" stroke-width="0.76"/>
<path d="M319.35777777777776,75.72444444444444 L323.81555555555553,71.64444444444445 L323.81555555555553,69.07555555555555 L325.1,68.62222222222222 L325.1,66.35555555555555 Q325.1,65.6 326.08222222222224,65.6 L330.91777777777776,65.6 Q331.9,65.6 331.9,66.35555555555555 L331.9,68.62222222222222 L333.18444444444447,69.07555555555555 L333.18444444444447,71.64444444444445 L337.64222222222224,75.72444444444444 Z" fill="#9a9a9a" stroke="#10141c" stroke-width="1.36" stroke-linejoin="round"/>
<path d="M325.1,68.77333333333333 L331.9,68.77333333333333 M323.81555555555553,71.79555555555555 L333.18444444444447,71.79555555555555" stroke="#3a3a3a" stroke-width="0.83" fill="none"/>
<path d="M325.78,66.80888888888889 L331.22,66.80888888888889 M324.5711111111111,70.43555555555555 L332.4288888888889,70.43555555555555" stroke="#c8c8c8" stroke-width="0.91" fill="none"/>
<ellipse cx="328.5" cy="90.38222222222223" rx="16.92" ry="3.32" fill="rgb(205,44,186)" stroke="#10141c" stroke-width="0.91"/>
<ellipse cx="328.5" cy="90.08" rx="15.11" ry="2.19" fill="rgb(240,76,218)" stroke="#10141c" stroke-width="1.21"/>
<g transform="matrix(33.69999999999999,-5.400000000000006,11.899999999999977,6.5,303.3,120.2)">
<rect x="0" y="0" width="1" height="1" fill="#f4f4f4" stroke="#aaa" stroke-width="0.025"/>
<rect x="0.076" y="0.121" width="0.099" height="0.143" rx="0.018" ry="0.041" fill="#98ee98"/>
<rect x="0.076" y="0.326" width="0.099" height="0.143" rx="0.018" ry="0.041" fill="#98ee98"/>
<rect x="0.076" y="0.531" width="0.099" height="0.143" rx="0.018" ry="0.041" fill="#98ee98"/>
<rect x="0.076" y="0.736" width="0.099" height="0.143" rx="0.018" ry="0.041" fill="#98ee98"/>
<rect x="0.226" y="0.121" width="0.099" height="0.143" rx="0.018" ry="0.041" fill="#98ee98"/>
<rect x="0.226" y="0.326" width="0.099" height="0.143" rx="0.018" ry="0.041" fill="#98ee98"/>
<rect x="0.226" y="0.531" width="0.099" height="0.143" rx="0.018" ry="0.041" fill="#98ee98"/>
<rect x="0.226" y="0.736" width="0.099" height="0.143" rx="0.018" ry="0.041" fill="#98ee98"/>
<rect x="0.376" y="0.121" width="0.099" height="0.143" rx="0.018" ry="0.041" fill="#98ee98"/>
<rect x="0.376" y="0.326" width="0.099" height="0.143" rx="0.018" ry="0.041" fill="#98ee98"/>
<rect x="0.376" y="0.531" width="0.099" height="0.143" rx="0.018" ry="0.041" fill="#98ee98"/>
<rect x="0.376" y="0.736" width="0.099" height="0.143" rx="0.018" ry="0.041" fill="#98ee98"/>
<rect x="0.525" y="0.121" width="0.099" height="0.143" rx="0.018" ry="0.041" fill="#98ee98"/>
<rect x="0.525" y="0.326" width="0.099" height="0.143" rx="0.018" ry="0.041" fill="#98ee98"/>
<rect x="0.525" y="0.531" width="0.099" height="0.143" rx="0.018" ry="0.041" fill="#98ee98"/>
<rect x="0.525" y="0.736" width="0.099" height="0.143" rx="0.018" ry="0.041" fill="#98ee98"/>
<rect x="0.675" y="0.121" width="0.099" height="0.143" rx="0.018" ry="0.041" fill="#98ee98"/>
<rect x="0.675" y="0.326" width="0.099" height="0.143" rx="0.018" ry="0.041" fill="#98ee98"/>
<rect x="0.675" y="0.531" width="0.099" height="0.143" rx="0.018" ry="0.041" fill="#98ee98"/>
<rect x="0.675" y="0.736" width="0.099" height="0.143" rx="0.018" ry="0.041" fill="#98ee98"/>
<rect x="0.826" y="0.121" width="0.099" height="0.143" rx="0.018" ry="0.041" fill="#98ee98"/>
<rect x="0.826" y="0.326" width="0.099" height="0.143" rx="0.018" ry="0.041" fill="#98ee98"/>
<rect x="0.826" y="0.531" width="0.099" height="0.143" rx="0.018" ry="0.041" fill="#98ee98"/>
<rect x="0.826" y="0.736" width="0.099" height="0.143" rx="0.018" ry="0.041" fill="#98ee98"/>
</g>
<text x="260.4" y="148" font-size="7.58" text-anchor="start" ><tspan font-weight="bold">F</tspan><tspan>  Final (post-treatment) </tspan><tspan font-style="italic">F</tspan><tspan font-size="4.70" dy="1.97" dx="0.23">V</tspan><tspan dy="-1.97" dx="0.45">/</tspan><tspan font-style="italic">F</tspan><tspan font-size="4.70" dy="1.97" dx="0.23">M</tspan></text>
<rect x="263.6" y="153" width="85" height="47" fill="#000"/>
<rect x="266.46" y="156.23" width="11.70" height="9.82" rx="2.5" fill="#7c801c" filter="url(#b4)"/>
<circle cx="272.30" cy="161.14" r="3.60" fill="#949424" filter="url(#b1)"/>
<circle cx="272.30" cy="161.14" r="3.30" fill="none" stroke="#d8d4a4" stroke-width="0.42"/>
<rect x="278.45" y="155.72" width="11.50" height="10.04" rx="2.5" fill="#808c20" filter="url(#b4)"/>
<circle cx="284.20" cy="160.74" r="3.60" fill="#8a9a28" filter="url(#b1)"/>
<circle cx="284.20" cy="160.74" r="3.30" fill="none" stroke="#d8d4a4" stroke-width="0.42"/>
<rect x="296.33" y="157.88" width="6.00" height="5.60" rx="2.5" fill="#665e14" filter="url(#b4)"/>
<circle cx="299.33" cy="160.68" r="1.70" fill="#8a7a1c" filter="url(#b1)"/>
<circle cx="299.33" cy="160.68" r="1.40" fill="none" stroke="#d8d4a4" stroke-width="0.42"/>
<rect x="305.85" y="156.44" width="10.77" height="8.77" rx="2.5" fill="#8c781c" filter="url(#b4)"/>
<circle cx="311.24" cy="160.83" r="3.60" fill="#a08820" filter="url(#b1)"/>
<circle cx="311.24" cy="160.83" r="3.30" fill="none" stroke="#d8d4a4" stroke-width="0.42"/>
<rect x="318.32" y="155.92" width="10.82" height="9.05" rx="2.5" fill="#8e701c" filter="url(#b4)"/>
<circle cx="323.73" cy="160.45" r="3.60" fill="#a07c20" filter="url(#b1)"/>
<circle cx="323.73" cy="160.45" r="3.30" fill="none" stroke="#d8d4a4" stroke-width="0.42"/>
<rect x="333.18" y="156.39" width="10.25" height="8.79" rx="2.5" fill="#846a1c" filter="url(#b4)"/>
<circle cx="338.31" cy="160.79" r="3.60" fill="#9c7a20" filter="url(#b1)"/>
<circle cx="338.31" cy="160.79" r="3.30" fill="none" stroke="#d8d4a4" stroke-width="0.42"/>
<rect x="266.56" y="167.20" width="11.49" height="9.88" rx="2.5" fill="#788a22" filter="url(#b4)"/>
<circle cx="272.31" cy="172.14" r="3.60" fill="#8a9a28" filter="url(#b1)"/>
<circle cx="272.31" cy="172.14" r="3.30" fill="none" stroke="#d8d4a4" stroke-width="0.42"/>
<rect x="277.38" y="166.96" width="12.49" height="9.95" rx="2.5" fill="#828820" filter="url(#b4)"/>
<circle cx="283.63" cy="171.93" r="3.60" fill="#94962a" filter="url(#b1)"/>
<circle cx="283.63" cy="171.93" r="3.30" fill="none" stroke="#d8d4a4" stroke-width="0.42"/>
<rect x="292.61" y="166.92" width="12.47" height="9.87" rx="2.5" fill="#7a9426" filter="url(#b4)"/>
<circle cx="298.85" cy="171.85" r="3.60" fill="#8aa42c" filter="url(#b1)"/>
<circle cx="298.85" cy="171.85" r="3.30" fill="none" stroke="#d8d4a4" stroke-width="0.42"/>
<rect x="308.02" y="167.91" width="7.60" height="7.20" rx="2.5" fill="#5a5214" filter="url(#b4)"/>
<circle cx="311.82" cy="171.51" r="3.10" fill="#a89424" filter="url(#b1)"/>
<circle cx="311.82" cy="171.51" r="2.80" fill="none" stroke="#d8d4a4" stroke-width="0.42"/>
<rect x="320.58" y="168.39" width="7.60" height="7.20" rx="2.5" fill="#5a5a14" filter="url(#b4)"/>
<circle cx="324.38" cy="171.99" r="3.10" fill="#9aa020" filter="url(#b1)"/>
<circle cx="324.38" cy="171.99" r="2.80" fill="none" stroke="#d8d4a4" stroke-width="0.42"/>
<rect x="334.63" y="168.12" width="7.60" height="7.20" rx="2.5" fill="#5a5a14" filter="url(#b4)"/>
<circle cx="338.43" cy="171.72" r="3.10" fill="#a4a022" filter="url(#b1)"/>
<circle cx="338.43" cy="171.72" r="2.80" fill="none" stroke="#d8d4a4" stroke-width="0.42"/>
<rect x="266.87" y="178.30" width="10.59" height="9.44" rx="2.5" fill="#b44414" filter="url(#b4)"/>
<circle cx="272.16" cy="183.02" r="3.60" fill="#e04e1a" filter="url(#b1)"/>
<circle cx="272.16" cy="183.02" r="3.30" fill="none" stroke="#ecc0b0" stroke-width="0.42"/>
<rect x="278.80" y="178.12" width="9.86" height="8.94" rx="2.5" fill="#b84014" filter="url(#b4)"/>
<circle cx="283.73" cy="182.59" r="3.60" fill="#e04616" filter="url(#b1)"/>
<circle cx="283.73" cy="182.59" r="3.30" fill="none" stroke="#ecc0b0" stroke-width="0.42"/>
<rect x="294.14" y="177.69" width="10.34" height="8.89" rx="2.5" fill="#bc4616" filter="url(#b4)"/>
<circle cx="299.31" cy="182.13" r="3.60" fill="#e4501a" filter="url(#b1)"/>
<circle cx="299.31" cy="182.13" r="3.30" fill="none" stroke="#ecc0b0" stroke-width="0.42"/>
<rect x="306.40" y="177.88" width="10.85" height="9.29" rx="2.5" fill="#6c2018" filter="url(#b4)"/>
<circle cx="311.82" cy="182.53" r="3.60" fill="#94281c" filter="url(#b1)"/>
<circle cx="311.82" cy="182.53" r="3.30" fill="none" stroke="#ecc0b0" stroke-width="0.42"/>
<rect x="318.09" y="178.19" width="10.84" height="9.18" rx="2.5" fill="#6a201c" filter="url(#b4)"/>
<circle cx="323.51" cy="182.77" r="3.60" fill="#8c2820" filter="url(#b1)"/>
<circle cx="323.51" cy="182.77" r="3.30" fill="none" stroke="#ecc0b0" stroke-width="0.42"/>
<rect x="333.33" y="178.35" width="9.67" height="8.90" rx="2.5" fill="#641c18" filter="url(#b4)"/>
<circle cx="338.16" cy="182.80" r="3.60" fill="#84221c" filter="url(#b1)"/>
<circle cx="338.16" cy="182.80" r="3.30" fill="none" stroke="#ecc0b0" stroke-width="0.42"/>
<rect x="267.08" y="188.07" width="10.06" height="9.54" rx="2.5" fill="#842e1c" filter="url(#b4)"/>
<circle cx="272.11" cy="192.84" r="3.60" fill="#a03a24" filter="url(#b1)"/>
<circle cx="272.11" cy="192.84" r="3.30" fill="none" stroke="#ecc0b0" stroke-width="0.42"/>
<rect x="279.08" y="188.39" width="9.80" height="9.46" rx="2.5" fill="#a43618" filter="url(#b4)"/>
<circle cx="283.98" cy="193.12" r="3.60" fill="#c8441c" filter="url(#b1)"/>
<circle cx="283.98" cy="193.12" r="3.30" fill="none" stroke="#ecc0b0" stroke-width="0.42"/>
<rect x="294.05" y="189.04" width="9.96" height="8.80" rx="2.5" fill="#9c361c" filter="url(#b4)"/>
<circle cx="299.03" cy="193.44" r="3.60" fill="#b84024" filter="url(#b1)"/>
<circle cx="299.03" cy="193.44" r="3.30" fill="none" stroke="#ecc0b0" stroke-width="0.42"/>
<rect x="306.98" y="189.05" width="9.67" height="9.39" rx="2.5" fill="#c44418" filter="url(#b4)"/>
<circle cx="311.82" cy="193.75" r="3.60" fill="#e4501c" filter="url(#b1)"/>
<circle cx="311.82" cy="193.75" r="3.30" fill="none" stroke="#ecc0b0" stroke-width="0.42"/>
<rect x="318.77" y="189.81" width="10.72" height="8.61" rx="2.5" fill="#bc4018" filter="url(#b4)"/>
<circle cx="324.13" cy="194.11" r="3.60" fill="#dc4c1c" filter="url(#b1)"/>
<circle cx="324.13" cy="194.11" r="3.30" fill="none" stroke="#ecc0b0" stroke-width="0.42"/>
<rect x="333.03" y="189.70" width="9.48" height="8.87" rx="2.5" fill="#a83a16" filter="url(#b4)"/>
<circle cx="337.77" cy="194.14" r="3.60" fill="#d04618" filter="url(#b1)"/>
<circle cx="337.77" cy="194.14" r="3.30" fill="none" stroke="#ecc0b0" stroke-width="0.42"/>
<text x="149" y="86.2" font-size="7.58" text-anchor="start" ><tspan font-weight="bold">G</tspan><tspan>  </tspan><tspan font-weight="bold" font-style="italic">Experiment 1:</tspan><tspan> light </tspan><tspan font-style="italic">vs</tspan></text>
<text x="149" y="95.5" font-size="7.58" text-anchor="start" ><tspan>dark post-treatment</tspan></text>
<defs><linearGradient id="lg3" x1="0" y1="0" x2="0" y2="1"><stop offset="0" stop-color="rgb(34, 50, 66)"/><stop offset="0.33" stop-color="rgb(38, 54, 72)"/><stop offset="0.43" stop-color="rgb(214, 84, 204)"/><stop offset="1" stop-color="rgb(214, 84, 204)"/></linearGradient></defs>
<ellipse cx="175.5" cy="118.70222222222222" rx="17.73" ry="7.15" fill="#f258d8" opacity="0.80" filter="url(#b3)"/>
<path d="M167.80977777777778,107.32577777777777 C165.01333333333332,110.31288888888889 161.8991111111111,114.63466666666667 161.26355555555557,119.71911111111112 L189.73644444444443,119.71911111111112 C189.1008888888889,114.63466666666667 185.98666666666668,110.31288888888889 183.19022222222222,107.32577777777777 Z" fill="url(#lg3)" stroke="#10141c" stroke-width="1.27"/>
<path d="M168.63,108.53 L166.30,111.84 M169.88,108.53 L167.97,111.84 M171.13,108.53 L169.64,111.84 M172.38,108.53 L171.32,111.84 M173.63,108.53 L172.99,111.84 M174.88,108.53 L174.66,111.84 M176.12,108.53 L176.34,111.84 M177.37,108.53 L178.01,111.84 M178.62,108.53 L179.68,111.84 M179.87,108.53 L181.36,111.84 M181.12,108.53 L183.03,111.84 M182.37,108.53 L184.70,111.84 " fill="none" stroke="rgb(176,186,204)" stroke-width="0.64"/>
<path d="M165.71,112.98 L163.62,118.07 M167.49,112.98 L165.78,118.07 M169.27,112.98 L167.94,118.07 M171.05,112.98 L170.10,118.07 M172.83,112.98 L172.26,118.07 M174.61,112.98 L174.42,118.07 M176.39,112.98 L176.58,118.07 M178.17,112.98 L178.74,118.07 M179.95,112.98 L180.90,118.07 M181.73,112.98 L183.06,118.07 M183.51,112.98 L185.22,118.07 M185.29,112.98 L187.38,118.07 " fill="none" stroke="rgb(120, 50, 130)" stroke-width="0.64"/>
<path d="M167.80977777777778,107.51644444444445 L171.55955555555556,104.08444444444444 L171.55955555555556,101.92355555555555 L172.64,101.54222222222222 L172.64,99.63555555555556 Q172.64,99.0 173.46622222222223,99.0 L177.53377777777777,99.0 Q178.36,99.0 178.36,99.63555555555556 L178.36,101.54222222222222 L179.44044444444444,101.92355555555555 L179.44044444444444,104.08444444444444 L183.19022222222222,107.51644444444445 Z" fill="#9a9a9a" stroke="#10141c" stroke-width="1.14" stroke-linejoin="round"/>
<path d="M172.64,101.66933333333333 L178.36,101.66933333333333 M171.55955555555556,104.21155555555555 L179.44044444444444,104.21155555555555" stroke="#3a3a3a" stroke-width="0.70" fill="none"/>
<path d="M173.212,100.01688888888889 L177.788,100.01688888888889 M172.19511111111112,103.06755555555556 L178.80488888888888,103.06755555555556" stroke="#c8c8c8" stroke-width="0.76" fill="none"/>
<ellipse cx="175.5" cy="119.84622222222222" rx="14.24" ry="2.80" fill="rgb(205,44,186)" stroke="#10141c" stroke-width="0.76"/>
<ellipse cx="175.5" cy="119.592" rx="12.71" ry="1.84" fill="rgb(240,76,218)" stroke="#10141c" stroke-width="1.02"/>
<defs><linearGradient id="lg4" x1="0" y1="0" x2="0" y2="1"><stop offset="0" stop-color="rgb(34, 50, 66)"/><stop offset="0.33" stop-color="rgb(38, 54, 72)"/><stop offset="0.43" stop-color="rgb(32, 52, 68)"/><stop offset="1" stop-color="rgb(32, 52, 68)"/></linearGradient></defs>
<path d="M221.90977777777778,107.12577777777777 C219.11333333333332,110.11288888888889 215.99911111111112,114.43466666666666 215.36355555555554,119.5191111111111 L243.83644444444445,119.5191111111111 C243.20088888888887,114.43466666666666 240.08666666666667,110.11288888888889 237.2902222222222,107.12577777777777 Z" fill="url(#lg4)" stroke="#10141c" stroke-width="1.27"/>
<path d="M222.73,108.33 L220.40,111.64 M223.98,108.33 L222.07,111.64 M225.23,108.33 L223.74,111.64 M226.48,108.33 L225.42,111.64 M227.73,108.33 L227.09,111.64 M228.98,108.33 L228.76,111.64 M230.22,108.33 L230.44,111.64 M231.47,108.33 L232.11,111.64 M232.72,108.33 L233.78,111.64 M233.97,108.33 L235.46,111.64 M235.22,108.33 L237.13,111.64 M236.47,108.33 L238.80,111.64 " fill="none" stroke="rgb(120,136,154)" stroke-width="0.64"/>
<path d="M219.81,112.78 L217.72,117.87 M221.59,112.78 L219.88,117.87 M223.37,112.78 L222.04,117.87 M225.15,112.78 L224.20,117.87 M226.93,112.78 L226.36,117.87 M228.71,112.78 L228.52,117.87 M230.49,112.78 L230.68,117.87 M232.27,112.78 L232.84,117.87 M234.05,112.78 L235.00,117.87 M235.83,112.78 L237.16,117.87 M237.61,112.78 L239.32,117.87 M239.39,112.78 L241.48,117.87 " fill="none" stroke="rgb(240,244,248)" stroke-width="1.08"/>
<path d="M221.90977777777778,107.31644444444444 L225.65955555555556,103.88444444444444 L225.65955555555556,101.72355555555555 L226.73999999999998,101.34222222222222 L226.73999999999998,99.43555555555555 Q226.73999999999998,98.8 227.56622222222222,98.8 L231.63377777777777,98.8 Q232.46,98.8 232.46,99.43555555555555 L232.46,101.34222222222222 L233.54044444444443,101.72355555555555 L233.54044444444443,103.88444444444444 L237.2902222222222,107.31644444444444 Z" fill="#9a9a9a" stroke="#10141c" stroke-width="1.14" stroke-linejoin="round"/>
<path d="M226.73999999999998,101.46933333333332 L232.46,101.46933333333332 M225.65955555555556,104.01155555555556 L233.54044444444443,104.01155555555556" stroke="#3a3a3a" stroke-width="0.70" fill="none"/>
<path d="M227.31199999999998,99.81688888888888 L231.888,99.81688888888888 M226.2951111111111,102.86755555555555 L232.90488888888888,102.86755555555555" stroke="#c8c8c8" stroke-width="0.76" fill="none"/>
<ellipse cx="229.6" cy="119.64622222222222" rx="14.24" ry="2.80" fill="#28404e" stroke="#10141c" stroke-width="0.76"/>
<ellipse cx="229.6" cy="119.392" rx="12.71" ry="1.84" fill="#b8b8b8" stroke="#10141c" stroke-width="1.02"/>
<g transform="matrix(34.80000000000001,-5.299999999999983,11.700000000000017,6.599999999999994,154.6,140.6)">
<rect x="0" y="0" width="1" height="1" fill="#f4f4f4" stroke="#aaa" stroke-width="0.025"/>
<rect x="0.076" y="0.121" width="0.099" height="0.143" rx="0.018" ry="0.041" fill="#98ee98"/>
<rect x="0.076" y="0.326" width="0.099" height="0.143" rx="0.018" ry="0.041" fill="#98ee98"/>
<rect x="0.076" y="0.531" width="0.099" height="0.143" rx="0.018" ry="0.041" fill="#98ee98"/>
<rect x="0.076" y="0.736" width="0.099" height="0.143" rx="0.018" ry="0.041" fill="#98ee98"/>
<rect x="0.226" y="0.121" width="0.099" height="0.143" rx="0.018" ry="0.041" fill="#98ee98"/>
<rect x="0.226" y="0.326" width="0.099" height="0.143" rx="0.018" ry="0.041" fill="#98ee98"/>
<rect x="0.226" y="0.531" width="0.099" height="0.143" rx="0.018" ry="0.041" fill="#98ee98"/>
<rect x="0.226" y="0.736" width="0.099" height="0.143" rx="0.018" ry="0.041" fill="#98ee98"/>
<rect x="0.376" y="0.121" width="0.099" height="0.143" rx="0.018" ry="0.041" fill="#98ee98"/>
<rect x="0.376" y="0.326" width="0.099" height="0.143" rx="0.018" ry="0.041" fill="#98ee98"/>
<rect x="0.376" y="0.531" width="0.099" height="0.143" rx="0.018" ry="0.041" fill="#98ee98"/>
<rect x="0.376" y="0.736" width="0.099" height="0.143" rx="0.018" ry="0.041" fill="#98ee98"/>
<rect x="0.525" y="0.121" width="0.099" height="0.143" rx="0.018" ry="0.041" fill="#98ee98"/>
<rect x="0.525" y="0.326" width="0.099" height="0.143" rx="0.018" ry="0.041" fill="#98ee98"/>
<rect x="0.525" y="0.531" width="0.099" height="0.143" rx="0.018" ry="0.041" fill="#98ee98"/>
<rect x="0.525" y="0.736" width="0.099" height="0.143" rx="0.018" ry="0.041" fill="#98ee98"/>
<rect x="0.675" y="0.121" width="0.099" height="0.143" rx="0.018" ry="0.041" fill="#98ee98"/>
<rect x="0.675" y="0.326" width="0.099" height="0.143" rx="0.018" ry="0.041" fill="#98ee98"/>
<rect x="0.675" y="0.531" width="0.099" height="0.143" rx="0.018" ry="0.041" fill="#98ee98"/>
<rect x="0.675" y="0.736" width="0.099" height="0.143" rx="0.018" ry="0.041" fill="#98ee98"/>
<rect x="0.826" y="0.121" width="0.099" height="0.143" rx="0.018" ry="0.041" fill="#98ee98"/>
<rect x="0.826" y="0.326" width="0.099" height="0.143" rx="0.018" ry="0.041" fill="#98ee98"/>
<rect x="0.826" y="0.531" width="0.099" height="0.143" rx="0.018" ry="0.041" fill="#98ee98"/>
<rect x="0.826" y="0.736" width="0.099" height="0.143" rx="0.018" ry="0.041" fill="#98ee98"/>
</g>
<g transform="matrix(33.599999999999994,-4.799999999999983,11.299999999999983,6.800000000000011,208.3,139.6)">
<rect x="0" y="0" width="1" height="1" fill="#f4f4f4" stroke="#aaa" stroke-width="0.025"/>
<rect x="0.076" y="0.121" width="0.099" height="0.143" rx="0.018" ry="0.041" fill="#98ee98"/>
<rect x="0.076" y="0.326" width="0.099" height="0.143" rx="0.018" ry="0.041" fill="#98ee98"/>
<rect x="0.076" y="0.531" width="0.099" height="0.143" rx="0.018" ry="0.041" fill="#98ee98"/>
<rect x="0.076" y="0.736" width="0.099" height="0.143" rx="0.018" ry="0.041" fill="#98ee98"/>
<rect x="0.226" y="0.121" width="0.099" height="0.143" rx="0.018" ry="0.041" fill="#98ee98"/>
<rect x="0.226" y="0.326" width="0.099" height="0.143" rx="0.018" ry="0.041" fill="#98ee98"/>
<rect x="0.226" y="0.531" width="0.099" height="0.143" rx="0.018" ry="0.041" fill="#98ee98"/>
<rect x="0.226" y="0.736" width="0.099" height="0.143" rx="0.018" ry="0.041" fill="#98ee98"/>
<rect x="0.376" y="0.121" width="0.099" height="0.143" rx="0.018" ry="0.041" fill="#98ee98"/>
<rect x="0.376" y="0.326" width="0.099" height="0.143" rx="0.018" ry="0.041" fill="#98ee98"/>
<rect x="0.376" y="0.531" width="0.099" height="0.143" rx="0.018" ry="0.041" fill="#98ee98"/>
<rect x="0.376" y="0.736" width="0.099" height="0.143" rx="0.018" ry="0.041" fill="#98ee98"/>
<rect x="0.525" y="0.121" width="0.099" height="0.143" rx="0.018" ry="0.041" fill="#98ee98"/>
<rect x="0.525" y="0.326" width="0.099" height="0.143" rx="0.018" ry="0.041" fill="#98ee98"/>
<rect x="0.525" y="0.531" width="0.099" height="0.143" rx="0.018" ry="0.041" fill="#98ee98"/>
<rect x="0.525" y="0.736" width="0.099" height="0.143" rx="0.018" ry="0.041" fill="#98ee98"/>
<rect x="0.675" y="0.121" width="0.099" height="0.143" rx="0.018" ry="0.041" fill="#98ee98"/>
<rect x="0.675" y="0.326" width="0.099" height="0.143" rx="0.018" ry="0.041" fill="#98ee98"/>
<rect x="0.675" y="0.531" width="0.099" height="0.143" rx="0.018" ry="0.041" fill="#98ee98"/>
<rect x="0.675" y="0.736" width="0.099" height="0.143" rx="0.018" ry="0.041" fill="#98ee98"/>
<rect x="0.826" y="0.121" width="0.099" height="0.143" rx="0.018" ry="0.041" fill="#98ee98"/>
<rect x="0.826" y="0.326" width="0.099" height="0.143" rx="0.018" ry="0.041" fill="#98ee98"/>
<rect x="0.826" y="0.531" width="0.099" height="0.143" rx="0.018" ry="0.041" fill="#98ee98"/>
<rect x="0.826" y="0.736" width="0.099" height="0.143" rx="0.018" ry="0.041" fill="#98ee98"/>
</g>
<text x="149" y="162.8" font-size="7.58" text-anchor="start" ><tspan font-weight="bold">H</tspan><tspan>  </tspan><tspan font-weight="bold" font-style="italic">Experiment 2:</tspan><tspan> light</tspan></text>
<text x="149" y="172.2" font-size="7.58" text-anchor="start" ><tspan>intensity during treatment</tspan></text>
<defs><linearGradient id="lg5" x1="0" y1="0" x2="0" y2="1"><stop offset="0" stop-color="rgb(34, 50, 66)"/><stop offset="0.33" stop-color="rgb(38, 54, 72)"/><stop offset="0.43" stop-color="rgb(32, 52, 68)"/><stop offset="1" stop-color="rgb(32, 52, 68)"/></linearGradient></defs>
<path d="M147.308,183.61200000000002 C145.01999999999998,186.056 142.47199999999998,189.592 141.952,193.752 L165.248,193.752 C164.728,189.592 162.18,186.056 159.892,183.61200000000002 Z" fill="url(#lg5)" stroke="#10141c" stroke-width="1.04"/>
<path d="M147.98,184.60 L146.07,187.30 M149.00,184.60 L147.44,187.30 M150.02,184.60 L148.81,187.30 M151.04,184.60 L150.18,187.30 M152.07,184.60 L151.55,187.30 M153.09,184.60 L152.92,187.30 M154.11,184.60 L154.28,187.30 M155.13,184.60 L155.65,187.30 M156.16,184.60 L157.02,187.30 M157.18,184.60 L158.39,187.30 M158.20,184.60 L159.76,187.30 M159.22,184.60 L161.13,187.30 " fill="none" stroke="rgb(120,136,154)" stroke-width="0.52"/>
<path d="M145.59,188.24 L143.88,192.40 M147.05,188.24 L145.64,192.40 M148.50,188.24 L147.41,192.40 M149.96,188.24 L149.18,192.40 M151.42,188.24 L150.95,192.40 M152.87,188.24 L152.72,192.40 M154.33,188.24 L154.48,192.40 M155.78,188.24 L156.25,192.40 M157.24,188.24 L158.02,192.40 M158.70,188.24 L159.79,192.40 M160.15,188.24 L161.56,192.40 M161.61,188.24 L163.32,192.40 " fill="none" stroke="rgb(240,244,248)" stroke-width="0.88"/>
<path d="M147.308,183.768 L150.376,180.96 L150.376,179.192 L151.26,178.88000000000002 L151.26,177.32000000000002 Q151.26,176.8 151.936,176.8 L155.26399999999998,176.8 Q155.94,176.8 155.94,177.32000000000002 L155.94,178.88000000000002 L156.82399999999998,179.192 L156.82399999999998,180.96 L159.892,183.768 Z" fill="#9a9a9a" stroke="#10141c" stroke-width="0.94" stroke-linejoin="round"/>
<path d="M151.26,178.984 L155.94,178.984 M150.376,181.06400000000002 L156.82399999999998,181.06400000000002" stroke="#3a3a3a" stroke-width="0.57" fill="none"/>
<path d="M151.728,177.632 L155.47199999999998,177.632 M150.896,180.12800000000001 L156.304,180.12800000000001" stroke="#c8c8c8" stroke-width="0.62" fill="none"/>
<ellipse cx="153.6" cy="193.85600000000002" rx="11.65" ry="2.29" fill="#28404e" stroke="#10141c" stroke-width="0.62"/>
<ellipse cx="153.6" cy="193.64800000000002" rx="10.40" ry="1.51" fill="#b8b8b8" stroke="#10141c" stroke-width="0.83"/>
<defs><linearGradient id="lg6" x1="0" y1="0" x2="0" y2="1"><stop offset="0" stop-color="rgb(34, 50, 66)"/><stop offset="0.33" stop-color="rgb(38, 54, 72)"/><stop offset="0.43" stop-color="rgb(86, 61, 108)"/><stop offset="1" stop-color="rgb(86, 61, 108)"/></linearGradient></defs>
<ellipse cx="182" cy="192.92000000000002" rx="14.51" ry="5.85" fill="#f258d8" opacity="0.50" filter="url(#b3)"/>
<path d="M175.708,183.61200000000002 C173.42,186.056 170.872,189.592 170.352,193.752 L193.648,193.752 C193.128,189.592 190.58,186.056 188.292,183.61200000000002 Z" fill="url(#lg6)" stroke="#10141c" stroke-width="1.04"/>
<path d="M176.38,184.60 L174.47,187.30 M177.40,184.60 L175.84,187.30 M178.42,184.60 L177.21,187.30 M179.44,184.60 L178.58,187.30 M180.47,184.60 L179.95,187.30 M181.49,184.60 L181.32,187.30 M182.51,184.60 L182.68,187.30 M183.53,184.60 L184.05,187.30 M184.56,184.60 L185.42,187.30 M185.58,184.60 L186.79,187.30 M186.60,184.60 L188.16,187.30 M187.62,184.60 L189.53,187.30 " fill="none" stroke="rgb(176,186,204)" stroke-width="0.52"/>
<path d="M173.99,188.24 L172.28,192.40 M175.45,188.24 L174.04,192.40 M176.90,188.24 L175.81,192.40 M178.36,188.24 L177.58,192.40 M179.82,188.24 L179.35,192.40 M181.27,188.24 L181.12,192.40 M182.73,188.24 L182.88,192.40 M184.18,188.24 L184.65,192.40 M185.64,188.24 L186.42,192.40 M187.10,188.24 L188.19,192.40 M188.55,188.24 L189.96,192.40 M190.01,188.24 L191.72,192.40 " fill="none" stroke="rgb(194, 173, 201)" stroke-width="0.52"/>
<path d="M175.708,183.768 L178.776,180.96 L178.776,179.192 L179.66,178.88000000000002 L179.66,177.32000000000002 Q179.66,176.8 180.336,176.8 L183.664,176.8 Q184.34,176.8 184.34,177.32000000000002 L184.34,178.88000000000002 L185.224,179.192 L185.224,180.96 L188.292,183.768 Z" fill="#9a9a9a" stroke="#10141c" stroke-width="0.94" stroke-linejoin="round"/>
<path d="M179.66,178.984 L184.34,178.984 M178.776,181.06400000000002 L185.224,181.06400000000002" stroke="#3a3a3a" stroke-width="0.57" fill="none"/>
<path d="M180.128,177.632 L183.872,177.632 M179.296,180.12800000000001 L184.704,180.12800000000001" stroke="#c8c8c8" stroke-width="0.62" fill="none"/>
<ellipse cx="182" cy="193.85600000000002" rx="11.65" ry="2.29" fill="rgb(181,62,167)" stroke="#10141c" stroke-width="0.62"/>
<ellipse cx="182" cy="193.64800000000002" rx="10.40" ry="1.51" fill="rgb(220,101,204)" stroke="#10141c" stroke-width="0.83"/>
<defs><linearGradient id="lg7" x1="0" y1="0" x2="0" y2="1"><stop offset="0" stop-color="rgb(34, 50, 66)"/><stop offset="0.33" stop-color="rgb(38, 54, 72)"/><stop offset="0.43" stop-color="rgb(132, 69, 142)"/><stop offset="1" stop-color="rgb(132, 69, 142)"/></linearGradient></defs>
<ellipse cx="212.7" cy="192.92000000000002" rx="14.51" ry="5.85" fill="#f258d8" opacity="0.66" filter="url(#b3)"/>
<path d="M206.408,183.61200000000002 C204.11999999999998,186.056 201.572,189.592 201.052,193.752 L224.34799999999998,193.752 C223.82799999999997,189.592 221.28,186.056 218.992,183.61200000000002 Z" fill="url(#lg7)" stroke="#10141c" stroke-width="1.04"/>
<path d="M207.08,184.60 L205.17,187.30 M208.10,184.60 L206.54,187.30 M209.12,184.60 L207.91,187.30 M210.14,184.60 L209.28,187.30 M211.17,184.60 L210.65,187.30 M212.19,184.60 L212.02,187.30 M213.21,184.60 L213.38,187.30 M214.23,184.60 L214.75,187.30 M215.26,184.60 L216.12,187.30 M216.28,184.60 L217.49,187.30 M217.30,184.60 L218.86,187.30 M218.32,184.60 L220.23,187.30 " fill="none" stroke="rgb(176,186,204)" stroke-width="0.52"/>
<path d="M204.69,188.24 L202.98,192.40 M206.15,188.24 L204.74,192.40 M207.60,188.24 L206.51,192.40 M209.06,188.24 L208.28,192.40 M210.52,188.24 L210.05,192.40 M211.97,188.24 L211.82,192.40 M213.43,188.24 L213.58,192.40 M214.88,188.24 L215.35,192.40 M216.34,188.24 L217.12,192.40 M217.80,188.24 L218.89,192.40 M219.25,188.24 L220.66,192.40 M220.71,188.24 L222.42,192.40 " fill="none" stroke="rgb(167, 129, 175)" stroke-width="0.52"/>
<path d="M206.408,183.768 L209.476,180.96 L209.476,179.192 L210.35999999999999,178.88000000000002 L210.35999999999999,177.32000000000002 Q210.35999999999999,176.8 211.036,176.8 L214.36399999999998,176.8 Q215.04,176.8 215.04,177.32000000000002 L215.04,178.88000000000002 L215.92399999999998,179.192 L215.92399999999998,180.96 L218.992,183.768 Z" fill="#9a9a9a" stroke="#10141c" stroke-width="0.94" stroke-linejoin="round"/>
<path d="M210.35999999999999,178.984 L215.04,178.984 M209.476,181.06400000000002 L215.92399999999998,181.06400000000002" stroke="#3a3a3a" stroke-width="0.57" fill="none"/>
<path d="M210.82799999999997,177.632 L214.572,177.632 M209.99599999999998,180.12800000000001 L215.404,180.12800000000001" stroke="#c8c8c8" stroke-width="0.62" fill="none"/>
<ellipse cx="212.7" cy="193.85600000000002" rx="11.65" ry="2.29" fill="rgb(194,52,177)" stroke="#10141c" stroke-width="0.62"/>
<ellipse cx="212.7" cy="193.64800000000002" rx="10.40" ry="1.51" fill="rgb(231,87,212)" stroke="#10141c" stroke-width="0.83"/>
<defs><linearGradient id="lg8" x1="0" y1="0" x2="0" y2="1"><stop offset="0" stop-color="rgb(34, 50, 66)"/><stop offset="0.33" stop-color="rgb(38, 54, 72)"/><stop offset="0.43" stop-color="rgb(186, 79, 183)"/><stop offset="1" stop-color="rgb(186, 79, 183)"/></linearGradient></defs>
<ellipse cx="243.6" cy="192.92000000000002" rx="14.51" ry="5.85" fill="#f258d8" opacity="0.80" filter="url(#b3)"/>
<path d="M237.308,183.61200000000002 C235.01999999999998,186.056 232.47199999999998,189.592 231.952,193.752 L255.248,193.752 C254.728,189.592 252.18,186.056 249.892,183.61200000000002 Z" fill="url(#lg8)" stroke="#10141c" stroke-width="1.04"/>
<path d="M237.98,184.60 L236.07,187.30 M239.00,184.60 L237.44,187.30 M240.02,184.60 L238.81,187.30 M241.04,184.60 L240.18,187.30 M242.07,184.60 L241.55,187.30 M243.09,184.60 L242.92,187.30 M244.11,184.60 L244.28,187.30 M245.13,184.60 L245.65,187.30 M246.16,184.60 L247.02,187.30 M247.18,184.60 L248.39,187.30 M248.20,184.60 L249.76,187.30 M249.22,184.60 L251.13,187.30 " fill="none" stroke="rgb(176,186,204)" stroke-width="0.52"/>
<path d="M235.59,188.24 L233.88,192.40 M237.05,188.24 L235.64,192.40 M238.50,188.24 L237.41,192.40 M239.96,188.24 L239.18,192.40 M241.42,188.24 L240.95,192.40 M242.87,188.24 L242.72,192.40 M244.33,188.24 L244.48,192.40 M245.78,188.24 L246.25,192.40 M247.24,188.24 L248.02,192.40 M248.70,188.24 L249.79,192.40 M250.15,188.24 L251.56,192.40 M251.61,188.24 L253.32,192.40 " fill="none" stroke="rgb(135, 76, 145)" stroke-width="0.52"/>
<path d="M237.308,183.768 L240.376,180.96 L240.376,179.192 L241.26,178.88000000000002 L241.26,177.32000000000002 Q241.26,176.8 241.936,176.8 L245.26399999999998,176.8 Q245.94,176.8 245.94,177.32000000000002 L245.94,178.88000000000002 L246.82399999999998,179.192 L246.82399999999998,180.96 L249.892,183.768 Z" fill="#9a9a9a" stroke="#10141c" stroke-width="0.94" stroke-linejoin="round"/>
<path d="M241.26,178.984 L245.94,178.984 M240.376,181.06400000000002 L246.82399999999998,181.06400000000002" stroke="#3a3a3a" stroke-width="0.57" fill="none"/>
<path d="M241.728,177.632 L245.47199999999998,177.632 M240.896,180.12800000000001 L246.304,180.12800000000001" stroke="#c8c8c8" stroke-width="0.62" fill="none"/>
<ellipse cx="243.6" cy="193.85600000000002" rx="11.65" ry="2.29" fill="rgb(205,44,186)" stroke="#10141c" stroke-width="0.62"/>
<ellipse cx="243.6" cy="193.64800000000002" rx="10.40" ry="1.51" fill="rgb(240,76,218)" stroke="#10141c" stroke-width="0.83"/>
<polygon points="138.9,206 144.70000000000002,201.3 166.8,201.3 161,206" fill="#cfe6f8"/>
<polygon points="161,206 166.8,201.3 166.8,216 161,220.7" fill="#a8cce8"/>
<rect x="138.9" y="206" width="22.099999999999994" height="14.7" fill="#b9dcf5"/>
<polygon points="146.3,205.6 155.6,204.0 158.8,206.7 149.5,208.2" fill="#b0f2b0" stroke="#e8f0ea" stroke-width="0.7"/>
<polygon points="169.2,206 175.0,201.3 196.8,201.3 191,206" fill="#c8dcf4"/>
<polygon points="191,206 196.8,201.3 196.8,216 191,220.7" fill="#a4c0e4"/>
<rect x="169.2" y="206" width="21.80000000000001" height="14.7" fill="#b6d2f2"/>
<polygon points="176.6,205.6 185.89999999999998,204.0 189.1,206.7 179.79999999999998,208.2" fill="#b0f2b0" stroke="#e8f0ea" stroke-width="0.7"/>
<polygon points="198.8,206 204.60000000000002,201.3 227.5,201.3 221.7,206" fill="#c4d0f2"/>
<polygon points="221.7,206 227.5,201.3 227.5,216 221.7,220.7" fill="#a4b4e0"/>
<rect x="198.8" y="206" width="22.899999999999977" height="14.7" fill="#b4c4ee"/>
<polygon points="206.20000000000002,205.6 215.5,204.0 218.70000000000002,206.7 209.4,208.2" fill="#b0f2b0" stroke="#e8f0ea" stroke-width="0.7"/>
<polygon points="229,206 234.8,201.3 257.1,201.3 251.3,206" fill="#c6c0f0"/>
<polygon points="251.3,206 257.1,201.3 257.1,216 251.3,220.7" fill="#a4a0d8"/>
<rect x="229" y="206" width="22.30000000000001" height="14.7" fill="#b4b0e8"/>
<polygon points="236.4,205.6 245.7,204.0 248.9,206.7 239.6,208.2" fill="#b0f2b0" stroke="#e8f0ea" stroke-width="0.7"/>
<text x="149" y="231.3" font-size="7.58" text-anchor="start" ><tspan font-weight="bold">I</tspan><tspan>  </tspan><tspan font-weight="bold" font-style="italic">Experiment 3:</tspan></text>
<text x="149" y="240.7" font-size="7.58" text-anchor="start" ><tspan>whole </tspan><tspan font-style="italic">vs</tspan><tspan> leaf sections</tspan></text>
<rect x="147" y="245.2" width="93" height="53" rx="5" fill="#fff" stroke="#444" stroke-width="0.85"/>
<rect x="149.8" y="247.6" width="87.6" height="48" rx="3" fill="#d2d2d2"/>
<rect x="154.08" y="251.12" width="9.85" height="6.97" rx="2.8" fill="#86dc70" stroke="#a8ec98" stroke-width="0.4" transform="rotate(4.4 159 254.6)"/>
<rect x="166.90" y="251.37" width="9.00" height="6.47" rx="2.8" fill="#86dc70" stroke="#a8ec98" stroke-width="0.4" transform="rotate(-6.0 171.4 254.6)"/>
<rect x="154.38" y="262.76" width="9.25" height="6.48" rx="2.8" fill="#86dc70" stroke="#a8ec98" stroke-width="0.4" transform="rotate(7.6 159 266)"/>
<rect x="166.05" y="262.75" width="10.71" height="6.50" rx="2.8" fill="#86dc70" stroke="#a8ec98" stroke-width="0.4" transform="rotate(0.0 171.4 266)"/>
<rect x="154.18" y="273.61" width="9.63" height="6.78" rx="2.8" fill="#86dc70" stroke="#a8ec98" stroke-width="0.4" transform="rotate(-2.4 159 277)"/>
<rect x="166.25" y="273.45" width="10.29" height="7.10" rx="2.8" fill="#86dc70" stroke="#a8ec98" stroke-width="0.4" transform="rotate(-2.2 171.4 277)"/>
<rect x="154.31" y="284.60" width="9.38" height="6.79" rx="2.8" fill="#86dc70" stroke="#a8ec98" stroke-width="0.4" transform="rotate(-6.0 159 288)"/>
<rect x="166.34" y="284.37" width="10.11" height="7.26" rx="2.8" fill="#86dc70" stroke="#a8ec98" stroke-width="0.4" transform="rotate(-1.9 171.4 288)"/>
<g transform="translate(191.8,260.6) rotate(-85)">
<path d="M-11.0,0 C-8.36,-7.92 5.94,-7.260000000000001 11.0,0 C5.94,7.260000000000001 -8.36,7.92 -11.0,0 Z" fill="#8fe07c"/>
<path d="M-11.0,0 Q0,1.3199999999999998 11.0,0" stroke="#d4f5c8" stroke-width="0.7" fill="none"/>
</g>
<g transform="translate(208.6,265.7) rotate(46)">
<path d="M-11.5,0 C-8.74,-10.08 6.210000000000001,-9.24 11.5,0 C6.210000000000001,9.24 -8.74,10.08 -11.5,0 Z" fill="#8fe07c"/>
<path d="M-11.5,0 Q0,1.68 11.5,0" stroke="#d4f5c8" stroke-width="0.7" fill="none"/>
</g>
<g transform="translate(219.2,255.6) rotate(20)">
<path d="M-9.5,0 C-7.22,-6.12 5.130000000000001,-5.61 9.5,0 C5.130000000000001,5.61 -7.22,6.12 -9.5,0 Z" fill="#8fe07c"/>
<path d="M-9.5,0 Q0,1.02 9.5,0" stroke="#d4f5c8" stroke-width="0.7" fill="none"/>
</g>
<g transform="translate(225.6,268.9) rotate(-60)">
<line x1="-12.0" y1="0" x2="-8.5" y2="0" stroke="#8fe07c" stroke-width="0.9"/>
<path d="M-9.5,0 C-7.22,-5.76 5.130000000000001,-5.28 9.5,0 C5.130000000000001,5.28 -7.22,5.76 -9.5,0 Z" fill="#8fe07c"/>
<path d="M-9.5,0 Q0,0.96 9.5,0" stroke="#d4f5c8" stroke-width="0.7" fill="none"/>
</g>
<g transform="translate(184.2,273.1) rotate(55)">
<path d="M-6.5,0 C-4.94,-6.4799999999999995 3.5100000000000002,-5.94 6.5,0 C3.5100000000000002,5.94 -4.94,6.4799999999999995 -6.5,0 Z" fill="#8fe07c"/>
<path d="M-6.5,0 Q0,1.08 6.5,0" stroke="#d4f5c8" stroke-width="0.7" fill="none"/>
</g>
<g transform="translate(186.9,285.6) rotate(50)">
<path d="M-7.25,0 C-5.51,-7.199999999999999 3.915,-6.6000000000000005 7.25,0 C3.915,6.6000000000000005 -5.51,7.199999999999999 -7.25,0 Z" fill="#8fe07c"/>
<path d="M-7.25,0 Q0,1.2 7.25,0" stroke="#d4f5c8" stroke-width="0.7" fill="none"/>
</g>
<g transform="translate(202.9,283.3) rotate(55)">
<path d="M-12.0,0 C-9.120000000000001,-10.799999999999999 6.48,-9.9 12.0,0 C6.48,9.9 -9.120000000000001,10.799999999999999 -12.0,0 Z" fill="#8fe07c"/>
<path d="M-12.0,0 Q0,1.7999999999999998 12.0,0" stroke="#d4f5c8" stroke-width="0.7" fill="none"/>
</g>
<g transform="translate(223.5,284.8) rotate(32)">
<path d="M-8.5,0 C-6.46,-7.92 4.59,-7.260000000000001 8.5,0 C4.59,7.260000000000001 -6.46,7.92 -8.5,0 Z" fill="#8fe07c"/>
<path d="M-8.5,0 Q0,1.3199999999999998 8.5,0" stroke="#d4f5c8" stroke-width="0.7" fill="none"/>
</g>
<text x="259.6" y="231.7" font-size="7.58" text-anchor="start" ><tspan font-weight="bold">J</tspan><tspan>  </tspan><tspan font-weight="bold" font-style="italic">Experiment 4:</tspan></text>
<text x="259.6" y="240.7" font-size="7.58" text-anchor="start" ><tspan>duration after collection</tspan></text>
<g transform="translate(268.2,266.6) rotate(-92)">
<line x1="-16.5" y1="0" x2="-11.0" y2="0" stroke="#8fe07c" stroke-width="0.9"/>
<path d="M-12.0,0 C-9.120000000000001,-7.632 6.48,-6.996 12.0,0 C6.48,6.996 -9.120000000000001,7.632 -12.0,0 Z" fill="#8fe07c"/>
<path d="M-12.0,0 Q0,1.272 12.0,0" stroke="#d4f5c8" stroke-width="0.7" fill="none"/>
</g>
<g transform="translate(285.2,270) rotate(42)">
<line x1="-15.75" y1="0" x2="-10.75" y2="0" stroke="#8fe07c" stroke-width="0.9"/>
<path d="M-11.75,0 C-8.93,-9.36 6.345000000000001,-8.58 11.75,0 C6.345000000000001,8.58 -8.93,9.36 -11.75,0 Z" fill="#8fe07c"/>
<path d="M-11.75,0 Q0,1.56 11.75,0" stroke="#d4f5c8" stroke-width="0.7" fill="none"/>
</g>
<g transform="translate(295.5,260) rotate(14)">
<line x1="-14.0" y1="0" x2="-9.0" y2="0" stroke="#8fe07c" stroke-width="0.9"/>
<path d="M-10.0,0 C-7.6,-5.76 5.4,-5.28 10.0,0 C5.4,5.28 -7.6,5.76 -10.0,0 Z" fill="#8fe07c"/>
<path d="M-10.0,0 Q0,0.96 10.0,0" stroke="#d4f5c8" stroke-width="0.7" fill="none"/>
</g>
<circle cx="328" cy="268.9" r="16.8" fill="#fff" stroke="#000" stroke-width="2.8"/>
<path d="M328,258.5 L328,269 L334.4,275" fill="none" stroke="#000" stroke-width="1.9" stroke-linecap="round" stroke-linejoin="round"/>
<circle cx="340.60" cy="268.90" r="0.9" fill="#000"/>
<circle cx="328.00" cy="281.50" r="0.9" fill="#000"/>
<circle cx="315.40" cy="268.90" r="0.9" fill="#000"/>
<circle cx="328.00" cy="256.30" r="0.9" fill="#000"/>
<text x="366.7" y="232.4" font-size="7.58" text-anchor="start" ><tspan font-weight="bold">K</tspan><tspan>  </tspan><tspan font-weight="bold" font-style="italic">Experiment 5:</tspan><tspan> PSII</tspan></text>
<text x="366.7" y="241.8" font-size="7.58" text-anchor="start" ><tspan>restoration over time?</tspan></text>
<rect x="365.2" y="244.8" width="17.400000000000034" height="52.5" fill="#000"/>
<g clip-path="url(#ks0)"><defs><clipPath id="ks0"><rect x="365.2" y="244.8" width="17.400000000000034" height="52.5"/></clipPath></defs>
<rect x="366.40" y="248.80" width="15.00" height="9.80" rx="2.5" fill="#3c10a0" filter="url(#b4)"/>
<circle cx="373.9" cy="253.7" r="4.1" fill="#5218bc" filter="url(#b4)"/>
<circle cx="373.9" cy="253.7" r="3.7" fill="none" stroke="#c4a4e4" stroke-width="0.42"/>
<rect x="369.40" y="261.50" width="9.00" height="9.00" rx="2.5" fill="#3a0e9c" filter="url(#b4)"/>
<circle cx="373.9" cy="266" r="4.1" fill="#4c14b8" filter="url(#b4)"/>
<circle cx="373.9" cy="266" r="3.5" fill="none" stroke="#c4a4e4" stroke-width="0.42"/>
<rect x="366.10" y="272.70" width="15.60" height="10.60" rx="2" fill="#06406a" filter="url(#b4)"/>
<rect x="367.40" y="274.00" width="13.00" height="8.00" rx="2.5" fill="#1226c0" filter="url(#b4)"/>
<circle cx="373.9" cy="278" r="4.1" fill="#2a1cf4" filter="url(#b4)"/>
<circle cx="373.9" cy="278" r="3.7" fill="none" stroke="#c4a4e4" stroke-width="0.42"/>
<rect x="366.10" y="283.90" width="15.60" height="10.60" rx="2" fill="#06406a" filter="url(#b4)"/>
<rect x="367.40" y="285.20" width="13.00" height="8.00" rx="2.5" fill="#1a22b8" filter="url(#b4)"/>
<circle cx="373.9" cy="289.2" r="4.1" fill="#3020ec" filter="url(#b4)"/>
<circle cx="373.9" cy="289.2" r="3.7" fill="none" stroke="#c4a4e4" stroke-width="0.42"/>
</g>
<rect x="386.9" y="244.8" width="20.600000000000023" height="52.5" fill="#000"/>
<g clip-path="url(#ks1)"><defs><clipPath id="ks1"><rect x="386.9" y="244.8" width="20.600000000000023" height="52.5"/></clipPath></defs>
<rect x="391.10" y="249.20" width="12.20" height="9.00" rx="2.5" fill="#6a4a10" filter="url(#b4)"/>
<circle cx="397.2" cy="253.7" r="4.1" fill="#94701c" filter="url(#b4)"/>
<circle cx="397.2" cy="253.7" r="3.7" fill="none" stroke="#e8d4b8" stroke-width="0.42"/>
<rect x="392.70" y="261.50" width="9.00" height="9.00" rx="2.5" fill="#3a300a" filter="url(#b4)"/>
<circle cx="397.2" cy="266" r="4.1" fill="#a88c20" filter="url(#b4)"/>
<circle cx="397.2" cy="266" r="3.5" fill="none" stroke="#e8d4b8" stroke-width="0.42"/>
<rect x="392.20" y="273.50" width="10.00" height="9.00" rx="2.5" fill="#3a0e08" filter="url(#b4)"/>
<circle cx="397.2" cy="278" r="4.1" fill="#7a2012" filter="url(#b4)"/>
<circle cx="397.2" cy="278" r="3.7" fill="none" stroke="#e8d4b8" stroke-width="0.42"/>
<rect x="392.00" y="284.70" width="10.40" height="9.00" rx="2.5" fill="#4a140a" filter="url(#b4)"/>
<circle cx="397.2" cy="289.2" r="4.1" fill="#a83416" filter="url(#b4)"/>
<circle cx="397.2" cy="289.2" r="3.7" fill="none" stroke="#e8d4b8" stroke-width="0.42"/>
</g>
<rect x="411.8" y="244.8" width="19.099999999999966" height="52.5" fill="#000"/>
<g clip-path="url(#ks2)"><defs><clipPath id="ks2"><rect x="411.8" y="244.8" width="19.099999999999966" height="52.5"/></clipPath></defs>
<rect x="414.55" y="248.80" width="13.60" height="9.80" rx="2.5" fill="#6c7416" filter="url(#b4)"/>
<circle cx="421.35" cy="253.7" r="4.1" fill="#929a22" filter="url(#b4)"/>
<circle cx="421.35" cy="253.7" r="3.7" fill="none" stroke="#e8dcb8" stroke-width="0.42"/>
<rect x="416.85" y="261.50" width="9.00" height="9.00" rx="2.5" fill="#5a6a14" filter="url(#b4)"/>
<circle cx="421.35" cy="266" r="4.1" fill="#6cb422" filter="url(#b4)"/>
<circle cx="421.35" cy="266" r="3.5" fill="none" stroke="#e8dcb8" stroke-width="0.42"/>
<rect x="415.65" y="273.10" width="11.40" height="9.80" rx="2.5" fill="#9a3c10" filter="url(#b4)"/>
<circle cx="421.35" cy="278" r="4.1" fill="#e4581a" filter="url(#b4)"/>
<circle cx="421.35" cy="278" r="3.7" fill="none" stroke="#e8dcb8" stroke-width="0.42"/>
<rect x="415.45" y="284.30" width="11.80" height="9.80" rx="2.5" fill="#a84c10" filter="url(#b4)"/>
<circle cx="421.35" cy="289.2" r="4.1" fill="#e8701a" filter="url(#b4)"/>
<circle cx="421.35" cy="289.2" r="3.7" fill="none" stroke="#e8dcb8" stroke-width="0.42"/>
</g>
<rect x="434.7" y="244.8" width="20.19999999999999" height="52.5" fill="#000"/>
<g clip-path="url(#ks3)"><defs><clipPath id="ks3"><rect x="434.7" y="244.8" width="20.19999999999999" height="52.5"/></clipPath></defs>
<rect x="437.50" y="248.80" width="14.60" height="9.80" rx="2.5" fill="#3a9410" filter="url(#b4)"/>
<circle cx="444.79999999999995" cy="253.7" r="4.1" fill="#4cb418" filter="url(#b4)"/>
<circle cx="444.79999999999995" cy="253.7" r="3.7" fill="none" stroke="#b4ec9c" stroke-width="0.42"/>
<rect x="440.30" y="261.50" width="9.00" height="9.00" rx="2.5" fill="#268814" filter="url(#b4)"/>
<circle cx="444.79999999999995" cy="266" r="4.1" fill="#22ac1c" filter="url(#b4)"/>
<circle cx="444.79999999999995" cy="266" r="3.5" fill="none" stroke="#b4ec9c" stroke-width="0.42"/>
<rect x="438.60" y="273.10" width="12.40" height="9.80" rx="2.5" fill="#5cc40c" filter="url(#b4)"/>
<circle cx="444.79999999999995" cy="278" r="4.1" fill="#7ce010" filter="url(#b4)"/>
<circle cx="444.79999999999995" cy="278" r="3.7" fill="none" stroke="#b4ec9c" stroke-width="0.42"/>
<rect x="438.40" y="284.30" width="12.80" height="9.80" rx="2.5" fill="#2cb40c" filter="url(#b4)"/>
<circle cx="444.79999999999995" cy="289.2" r="4.1" fill="#34d810" filter="url(#b4)"/>
<circle cx="444.79999999999995" cy="289.2" r="3.7" fill="none" stroke="#b4ec9c" stroke-width="0.42"/>
</g>
<text x="373.9" y="302.9" font-size="6.4" text-anchor="middle" ><tspan>Pre</tspan></text>
<text x="397.2" y="302.9" font-size="6.4" text-anchor="middle" ><tspan>2 h</tspan></text>
<text x="421.35" y="302.9" font-size="6.4" text-anchor="middle" ><tspan>7 h</tspan></text>
<text x="444.79999999999995" y="302.9" font-size="6.4" text-anchor="middle" ><tspan>24 h</tspan></text>
<text x="149.5" y="313.8" font-size="7.58" text-anchor="start" ><tspan font-weight="bold">L</tspan><tspan>  Proportional </tspan><tspan font-style="italic">F</tspan><tspan font-size="4.70" dy="1.97" dx="0.23">V</tspan><tspan dy="-1.97" dx="0.45">/</tspan><tspan font-style="italic">F</tspan><tspan font-size="4.70" dy="1.97" dx="0.23">M</tspan></text>
<text x="149.5" y="322.7" font-size="7.58" text-anchor="start" ><tspan>by treatment</tspan></text>
<path d="M162.5,326.2 L162.5,375 L229.5,375" fill="none" stroke="#000" stroke-width="0.75"/>
<line x1="161.5" y1="373.70" x2="162.5" y2="373.70" stroke="#222" stroke-width="0.4"/>
<text x="160.8" y="374.8" font-size="3.2" text-anchor="end"  class="t"><tspan>0.0</tspan></text>
<line x1="161.5" y1="364.70" x2="162.5" y2="364.70" stroke="#222" stroke-width="0.4"/>
<text x="160.8" y="365.8" font-size="3.2" text-anchor="end"  class="t"><tspan>0.2</tspan></text>
<line x1="161.5" y1="355.70" x2="162.5" y2="355.70" stroke="#222" stroke-width="0.4"/>
<text x="160.8" y="356.8" font-size="3.2" text-anchor="end"  class="t"><tspan>0.4</tspan></text>
<line x1="161.5" y1="346.70" x2="162.5" y2="346.70" stroke="#222" stroke-width="0.4"/>
<text x="160.8" y="347.8" font-size="3.2" text-anchor="end"  class="t"><tspan>0.6</tspan></text>
<line x1="161.5" y1="337.70" x2="162.5" y2="337.70" stroke="#222" stroke-width="0.4"/>
<text x="160.8" y="338.8" font-size="3.2" text-anchor="end"  class="t"><tspan>0.8</tspan></text>
<line x1="161.5" y1="328.70" x2="162.5" y2="328.70" stroke="#222" stroke-width="0.4"/>
<text x="160.8" y="329.8" font-size="3.2" text-anchor="end"  class="t"><tspan>1.0</tspan></text>
<line x1="165.00" y1="375" x2="165.00" y2="376" stroke="#222" stroke-width="0.4"/>
<text x="165.0" y="380.4" font-size="3.2" text-anchor="middle"  class="t"><tspan>0</tspan></text>
<line x1="167.58" y1="375" x2="167.58" y2="376" stroke="#222" stroke-width="0.4"/>
<text x="167.58333333333334" y="380.4" font-size="3.2" text-anchor="middle"  class="t"><tspan>5</tspan></text>
<line x1="172.75" y1="375" x2="172.75" y2="376" stroke="#222" stroke-width="0.4"/>
<text x="172.75" y="380.4" font-size="3.2" text-anchor="middle"  class="t"><tspan>15</tspan></text>
<line x1="180.50" y1="375" x2="180.50" y2="376" stroke="#222" stroke-width="0.4"/>
<text x="180.5" y="380.4" font-size="3.2" text-anchor="middle"  class="t"><tspan>30</tspan></text>
<line x1="196.00" y1="375" x2="196.00" y2="376" stroke="#222" stroke-width="0.4"/>
<text x="196.0" y="380.4" font-size="3.2" text-anchor="middle"  class="t"><tspan>60</tspan></text>
<line x1="227.00" y1="375" x2="227.00" y2="376" stroke="#222" stroke-width="0.4"/>
<text x="227.0" y="380.4" font-size="3.2" text-anchor="middle"  class="t"><tspan>120</tspan></text>
<text x="196" y="386.0" font-size="4.4" text-anchor="middle"  class="m"><tspan>Exposure duration (min)</tspan></text>
<text transform="translate(154.6,350.5) rotate(-90)" class="m" font-size="4.2" text-anchor="middle">Proportional <tspan font-style="italic">F</tspan><tspan font-size="2.8" dy="0.8">V</tspan><tspan dy="-0.8">/</tspan><tspan font-style="italic">F</tspan><tspan font-size="2.8" dy="0.8">M</tspan></text>
<polyline points="165.00,329.38 166.03,329.40 167.07,329.42 168.10,329.44 169.13,329.46 170.17,329.49 171.20,329.51 172.23,329.53 173.27,329.56 174.30,329.58 175.33,329.60 176.37,329.62 177.40,329.64 178.43,329.67 179.47,329.69 180.50,329.71 181.53,329.74 182.57,329.76 183.60,329.78 184.63,329.80 185.67,329.82 186.70,329.85 187.73,329.87 188.77,329.89 189.80,329.91 190.83,329.94 191.87,329.96 192.90,329.98 193.93,330.00 194.97,330.03 196.00,330.05 197.03,330.07 198.07,330.09 199.10,330.12 200.13,330.14 201.17,330.16 202.20,330.19 203.23,330.21 204.27,330.23 205.30,330.25 206.33,330.27 207.37,330.30 208.40,330.32 209.43,330.34 210.47,330.37 211.50,330.39 212.53,330.41 213.57,330.43 214.60,330.45 215.63,330.48 216.67,330.50 217.70,330.52 218.73,330.54 219.77,330.57 220.80,330.59 221.83,330.61 222.87,330.63 223.90,330.66 224.93,330.68 225.97,330.70 227.00,330.72" fill="none" stroke="#f6921e" stroke-width="1.3" stroke-linecap="round"/>
<polyline points="165.00,329.38 166.03,329.44 167.07,329.50 168.10,329.57 169.13,329.63 170.17,329.69 171.20,329.76 172.23,329.82 173.27,329.88 174.30,329.95 175.33,330.01 176.37,330.08 177.40,330.14 178.43,330.20 179.47,330.27 180.50,330.33 181.53,330.39 182.57,330.46 183.60,330.52 184.63,330.59 185.67,330.65 186.70,330.71 187.73,330.78 188.77,330.84 189.80,330.90 190.83,330.97 191.87,331.03 192.90,331.10 193.93,331.16 194.97,331.22 196.00,331.29 197.03,331.35 198.07,331.41 199.10,331.48 200.13,331.54 201.17,331.61 202.20,331.67 203.23,331.73 204.27,331.80 205.30,331.86 206.33,331.93 207.37,331.99 208.40,332.05 209.43,332.12 210.47,332.18 211.50,332.24 212.53,332.31 213.57,332.37 214.60,332.44 215.63,332.50 216.67,332.56 217.70,332.63 218.73,332.69 219.77,332.75 220.80,332.82 221.83,332.88 222.87,332.94 223.90,333.01 224.93,333.07 225.97,333.14 227.00,333.20" fill="none" stroke="#e8552d" stroke-width="1.3" stroke-linecap="round"/>
<polyline points="165.00,337.25 166.03,337.40 167.07,337.56 168.10,337.73 169.13,337.89 170.17,338.06 171.20,338.24 172.23,338.41 173.27,338.59 174.30,338.78 175.33,338.97 176.37,339.16 177.40,339.36 178.43,339.56 179.47,339.76 180.50,339.97 181.53,340.18 182.57,340.40 183.60,340.62 184.63,340.84 185.67,341.07 186.70,341.30 187.73,341.53 188.77,341.77 189.80,342.01 190.83,342.26 191.87,342.51 192.90,342.76 193.93,343.02 194.97,343.28 196.00,343.54 197.03,343.81 198.07,344.08 199.10,344.36 200.13,344.64 201.17,344.92 202.20,345.21 203.23,345.50 204.27,345.79 205.30,346.09 206.33,346.39 207.37,346.70 208.40,347.01 209.43,347.32 210.47,347.64 211.50,347.96 212.53,348.29 213.57,348.62 214.60,348.95 215.63,349.28 216.67,349.62 217.70,349.97 218.73,350.32 219.77,350.67 220.80,351.02 221.83,351.38 222.87,351.75 223.90,352.11 224.93,352.48 225.97,352.86 227.00,353.23" fill="none" stroke="#b33572" stroke-width="1.3" stroke-linecap="round"/>
<polyline points="165.00,344.68 166.03,344.93 167.07,345.39 168.10,345.97 169.13,346.64 170.17,347.39 171.20,348.19 172.23,349.03 173.27,349.90 174.30,350.80 175.33,351.71 176.37,352.63 177.40,353.55 178.43,354.47 179.47,355.37 180.50,356.27 181.53,357.15 182.57,358.01 183.60,358.85 184.63,359.67 185.67,360.46 186.70,361.23 187.73,361.97 188.77,362.68 189.80,363.36 190.83,364.01 191.87,364.64 192.90,365.23 193.93,365.79 194.97,366.33 196.00,366.84 197.03,367.32 198.07,367.78 199.10,368.20 200.13,368.61 201.17,368.99 202.20,369.34 203.23,369.67 204.27,369.99 205.30,370.28 206.33,370.55 207.37,370.80 208.40,371.04 209.43,371.26 210.47,371.46 211.50,371.65 212.53,371.82 213.57,371.98 214.60,372.13 215.63,372.27 216.67,372.40 217.70,372.51 218.73,372.62 219.77,372.72 220.80,372.81 221.83,372.89 222.87,372.97 223.90,373.04 224.93,373.10 225.97,373.16 227.00,373.21" fill="none" stroke="#8c2981" stroke-width="1.3" stroke-linecap="round"/>
<polyline points="165.00,353.00 166.03,355.72 167.07,358.55 168.10,361.12 169.13,363.35 170.17,365.25 171.20,366.85 172.23,368.17 173.27,369.26 174.30,370.15 175.33,370.87 176.37,371.45 177.40,371.92 178.43,372.29 179.47,372.59 180.50,372.83 181.53,373.02 182.57,373.17 183.60,373.29 184.63,373.38 185.67,373.45 186.70,373.51 187.73,373.55 188.77,373.58 189.80,373.61 190.83,373.63 191.87,373.65 192.90,373.66 193.93,373.67 194.97,373.68 196.00,373.68 197.03,373.69 198.07,373.69 199.10,373.69 200.13,373.69 201.17,373.70 202.20,373.70 203.23,373.70 204.27,373.70 205.30,373.70 206.33,373.70 207.37,373.70 208.40,373.70 209.43,373.70 210.47,373.70 211.50,373.70 212.53,373.70 213.57,373.70 214.60,373.70 215.63,373.70 216.67,373.70 217.70,373.70 218.73,373.70 219.77,373.70 220.80,373.70 221.83,373.70 222.87,373.70 223.90,373.70 224.93,373.70 225.97,373.70 227.00,373.70" fill="none" stroke="#5c1f8c" stroke-width="1.3" stroke-linecap="round"/>
<text x="158" y="395.4" font-size="4.5" text-anchor="start"  class="m"><tspan>Temperature (°C)</tspan></text>
<defs><linearGradient id="tg"><stop offset="0" stop-color="#f8a21c"/><stop offset="0.3" stop-color="#ea5a2c"/><stop offset="0.55" stop-color="#b8347a"/><stop offset="0.8" stop-color="#7a2388"/><stop offset="1" stop-color="#45107a"/></linearGradient></defs>
<rect x="194.5" y="388.7" width="34.7" height="6.3" fill="url(#tg)"/>
<text x="196.0" y="399.2" font-size="3" text-anchor="middle"  class="t"><tspan>30</tspan></text>
<text x="203.7" y="399.2" font-size="3" text-anchor="middle"  class="t"><tspan>35</tspan></text>
<text x="211.4" y="399.2" font-size="3" text-anchor="middle"  class="t"><tspan>40</tspan></text>
<text x="219.1" y="399.2" font-size="3" text-anchor="middle"  class="t"><tspan>45</tspan></text>
<text x="226.8" y="399.2" font-size="3" text-anchor="middle"  class="t"><tspan>50</tspan></text>
<text x="259.5" y="313.8" font-size="7.58" text-anchor="start" ><tspan font-weight="bold">M</tspan><tspan>  Bootstrap GLMs</tspan></text>
<line x1="255.2" y1="329.82" x2="300.6" y2="329.82" stroke="#666" stroke-width="0.5" stroke-dasharray="1.5,1.6"/>
<line x1="255.2" y1="349.10" x2="300.6" y2="349.10" stroke="#666" stroke-width="0.5" stroke-dasharray="1.5,1.6"/>
<line x1="255.2" y1="368.38" x2="300.6" y2="368.38" stroke="#666" stroke-width="0.5" stroke-dasharray="1.5,1.6"/>
<polygon points="256.00,325.00 256.43,325.00 256.86,325.00 257.29,325.00 257.72,325.00 258.15,325.00 258.58,325.00 259.01,325.01 259.44,325.01 259.87,325.01 260.30,325.01 260.73,325.01 261.16,325.01 261.59,325.01 262.02,325.01 262.45,325.02 262.88,325.02 263.31,325.02 263.74,325.03 264.17,325.03 264.60,325.04 265.03,325.04 265.46,325.05 265.89,325.06 266.32,325.07 266.75,325.08 267.18,325.09 267.61,325.11 268.04,325.13 268.47,325.15 268.90,325.17 269.33,325.20 269.76,325.24 270.19,325.28 270.62,325.32 271.05,325.38 271.48,325.44 271.91,325.51 272.34,325.59 272.77,325.69 273.20,325.81 273.63,325.94 274.06,326.09 274.49,326.27 274.92,326.47 275.35,326.71 275.78,326.98 276.21,327.30 276.64,327.66 277.07,328.08 277.50,328.55 277.93,329.10 278.36,329.71 278.79,330.41 279.22,331.20 279.65,332.08 280.08,333.06 280.51,334.15 280.94,335.35 281.37,336.66 281.80,338.08 282.23,339.60 282.66,341.22 283.09,342.92 283.52,344.69 283.95,346.51 284.38,348.36 284.81,350.21 285.24,352.06 285.67,353.87 286.10,355.63 286.53,357.31 286.96,358.91 287.39,360.41 287.82,361.81 288.25,363.10 288.68,364.27 289.11,365.34 289.54,366.30 289.97,367.17 290.40,367.94 290.83,368.62 291.26,369.22 291.69,369.75 292.12,370.21 292.55,370.61 292.98,370.97 293.41,371.27 293.84,371.54 294.27,371.77 294.70,371.97 295.13,372.14 295.56,372.29 295.99,372.42 296.42,372.53 296.85,372.62 297.28,372.70 297.71,372.78 298.14,372.84 298.57,372.89 299.00,372.93 299.00,373.20 298.57,373.20 298.14,373.19 297.71,373.19 297.28,373.19 296.85,373.19 296.42,373.19 295.99,373.18 295.56,373.18 295.13,373.17 294.70,373.17 294.27,373.16 293.84,373.15 293.41,373.14 292.98,373.12 292.55,373.10 292.12,373.08 291.69,373.05 291.26,373.01 290.83,372.96 290.40,372.90 289.97,372.83 289.54,372.74 289.11,372.63 288.68,372.50 288.25,372.33 287.82,372.12 287.39,371.86 286.96,371.54 286.53,371.15 286.10,370.67 285.67,370.09 285.24,369.39 284.81,368.55 284.38,367.54 283.95,366.35 283.52,364.96 283.09,363.35 282.66,361.52 282.23,359.48 281.80,357.23 281.37,354.80 280.94,352.25 280.51,349.63 280.08,346.99 279.65,344.40 279.22,341.92 278.79,339.60 278.36,337.47 277.93,335.55 277.50,333.86 277.07,332.38 276.64,331.11 276.21,330.03 275.78,329.13 275.35,328.37 274.92,327.74 274.49,327.23 274.06,326.81 273.63,326.46 273.20,326.18 272.77,325.95 272.34,325.77 271.91,325.62 271.48,325.50 271.05,325.40 270.62,325.32 270.19,325.26 269.76,325.21 269.33,325.17 268.90,325.13 268.47,325.11 268.04,325.09 267.61,325.07 267.18,325.06 266.75,325.05 266.32,325.04 265.89,325.03 265.46,325.02 265.03,325.02 264.60,325.02 264.17,325.01 263.74,325.01 263.31,325.01 262.88,325.01 262.45,325.01 262.02,325.00 261.59,325.00 261.16,325.00 260.73,325.00 260.30,325.00 259.87,325.00 259.44,325.00 259.01,325.00 258.58,325.00 258.15,325.00 257.72,325.00 257.29,325.00 256.86,325.00 256.43,325.00 256.00,325.00" fill="#c4f0dc" fill-opacity="0.85"/>
<polygon points="256.00,325.00 256.43,325.00 256.86,325.00 257.29,325.00 257.72,325.00 258.15,325.00 258.58,325.00 259.01,325.00 259.44,325.00 259.87,325.01 260.30,325.01 260.73,325.01 261.16,325.01 261.59,325.01 262.02,325.01 262.45,325.02 262.88,325.02 263.31,325.02 263.74,325.03 264.17,325.03 264.60,325.04 265.03,325.04 265.46,325.05 265.89,325.06 266.32,325.07 266.75,325.08 267.18,325.10 267.61,325.12 268.04,325.14 268.47,325.16 268.90,325.19 269.33,325.23 269.76,325.27 270.19,325.32 270.62,325.37 271.05,325.44 271.48,325.52 271.91,325.62 272.34,325.73 272.77,325.86 273.20,326.02 273.63,326.20 274.06,326.41 274.49,326.66 274.92,326.95 275.35,327.29 275.78,327.69 276.21,328.15 276.64,328.68 277.07,329.30 277.50,330.01 277.93,330.81 278.36,331.73 278.79,332.77 279.22,333.93 279.65,335.22 280.08,336.64 280.51,338.19 280.94,339.86 281.37,341.64 281.80,343.52 282.23,345.48 282.66,347.48 283.09,349.51 283.52,351.53 283.95,353.51 284.38,355.44 284.81,357.28 285.24,359.02 285.67,360.65 286.10,362.15 286.53,363.52 286.96,364.75 287.39,365.86 287.82,366.85 288.25,367.72 288.68,368.49 289.11,369.16 289.54,369.74 289.97,370.24 290.40,370.68 290.83,371.05 291.26,371.37 291.69,371.64 292.12,371.88 292.55,372.08 292.98,372.25 293.41,372.39 293.84,372.52 294.27,372.62 294.70,372.71 295.13,372.79 295.56,372.85 295.99,372.90 296.42,372.95 296.85,372.99 297.28,373.02 297.71,373.05 298.14,373.07 298.57,373.09 299.00,373.11 299.00,373.20 298.57,373.20 298.14,373.20 297.71,373.20 297.28,373.20 296.85,373.20 296.42,373.20 295.99,373.19 295.56,373.19 295.13,373.19 294.70,373.19 294.27,373.19 293.84,373.18 293.41,373.18 292.98,373.17 292.55,373.16 292.12,373.15 291.69,373.14 291.26,373.12 290.83,373.10 290.40,373.08 289.97,373.05 289.54,373.00 289.11,372.95 288.68,372.88 288.25,372.80 287.82,372.69 287.39,372.56 286.96,372.39 286.53,372.17 286.10,371.90 285.67,371.57 285.24,371.14 284.81,370.62 284.38,369.96 283.95,369.16 283.52,368.19 283.09,367.00 282.66,365.59 282.23,363.93 281.80,362.01 281.37,359.82 280.94,357.40 280.51,354.76 280.08,351.97 279.65,349.10 279.22,346.23 278.79,343.44 278.36,340.80 277.93,338.38 277.50,336.19 277.07,334.27 276.64,332.61 276.21,331.20 275.78,330.01 275.35,329.04 274.92,328.24 274.49,327.58 274.06,327.06 273.63,326.63 273.20,326.30 272.77,326.03 272.34,325.81 271.91,325.64 271.48,325.51 271.05,325.40 270.62,325.32 270.19,325.25 269.76,325.20 269.33,325.15 268.90,325.12 268.47,325.10 268.04,325.08 267.61,325.06 267.18,325.05 266.75,325.04 266.32,325.03 265.89,325.02 265.46,325.02 265.03,325.01 264.60,325.01 264.17,325.01 263.74,325.01 263.31,325.01 262.88,325.00 262.45,325.00 262.02,325.00 261.59,325.00 261.16,325.00 260.73,325.00 260.30,325.00 259.87,325.00 259.44,325.00 259.01,325.00 258.58,325.00 258.15,325.00 257.72,325.00 257.29,325.00 256.86,325.00 256.43,325.00 256.00,325.00" fill="#9cdcdc" fill-opacity="0.85"/>
<polygon points="256.00,325.00 256.43,325.00 256.86,325.00 257.29,325.00 257.72,325.00 258.15,325.00 258.58,325.00 259.01,325.00 259.44,325.00 259.87,325.00 260.30,325.01 260.73,325.01 261.16,325.01 261.59,325.01 262.02,325.01 262.45,325.02 262.88,325.02 263.31,325.02 263.74,325.03 264.17,325.03 264.60,325.04 265.03,325.05 265.46,325.06 265.89,325.07 266.32,325.09 266.75,325.11 267.18,325.13 267.61,325.16 268.04,325.19 268.47,325.23 268.90,325.28 269.33,325.34 269.76,325.41 270.19,325.50 270.62,325.60 271.05,325.73 271.48,325.89 271.91,326.07 272.34,326.30 272.77,326.57 273.20,326.89 273.63,327.28 274.06,327.74 274.49,328.30 274.92,328.95 275.35,329.71 275.78,330.61 276.21,331.65 276.64,332.85 277.07,334.21 277.50,335.75 277.93,337.47 278.36,339.35 278.79,341.39 279.22,343.56 279.65,345.83 280.08,348.16 280.51,350.51 280.94,352.83 281.37,355.08 281.80,357.23 282.23,359.23 282.66,361.09 283.09,362.77 283.52,364.27 283.95,365.61 284.38,366.77 284.81,367.78 285.24,368.65 285.67,369.39 286.10,370.02 286.53,370.55 286.96,371.00 287.39,371.38 287.82,371.69 288.25,371.95 288.68,372.17 289.11,372.35 289.54,372.50 289.97,372.62 290.40,372.72 290.83,372.80 291.26,372.87 291.69,372.93 292.12,372.98 292.55,373.02 292.98,373.05 293.41,373.08 293.84,373.10 294.27,373.12 294.70,373.13 295.13,373.14 295.56,373.15 295.99,373.16 296.42,373.17 296.85,373.17 297.28,373.18 297.71,373.18 298.14,373.19 298.57,373.19 299.00,373.19 299.00,373.20 298.57,373.20 298.14,373.20 297.71,373.20 297.28,373.20 296.85,373.20 296.42,373.20 295.99,373.20 295.56,373.20 295.13,373.20 294.70,373.20 294.27,373.20 293.84,373.20 293.41,373.20 292.98,373.20 292.55,373.20 292.12,373.19 291.69,373.19 291.26,373.19 290.83,373.19 290.40,373.18 289.97,373.18 289.54,373.17 289.11,373.16 288.68,373.15 288.25,373.13 287.82,373.11 287.39,373.08 286.96,373.04 286.53,373.00 286.10,372.93 285.67,372.84 285.24,372.73 284.81,372.59 284.38,372.39 283.95,372.14 283.52,371.81 283.09,371.39 282.66,370.83 282.23,370.13 281.80,369.23 281.37,368.09 280.94,366.68 280.51,364.96 280.08,362.89 279.65,360.47 279.22,357.71 278.79,354.67 278.36,351.43 277.93,348.10 277.50,344.81 277.07,341.67 276.64,338.79 276.21,336.23 275.78,334.02 275.35,332.17 274.92,330.63 274.49,329.40 274.06,328.41 273.63,327.63 273.20,327.02 272.77,326.55 272.34,326.18 271.91,325.90 271.48,325.69 271.05,325.52 270.62,325.40 270.19,325.30 269.76,325.23 269.33,325.17 268.90,325.13 268.47,325.10 268.04,325.08 267.61,325.06 267.18,325.04 266.75,325.03 266.32,325.03 265.89,325.02 265.46,325.01 265.03,325.01 264.60,325.01 264.17,325.01 263.74,325.00 263.31,325.00 262.88,325.00 262.45,325.00 262.02,325.00 261.59,325.00 261.16,325.00 260.73,325.00 260.30,325.00 259.87,325.00 259.44,325.00 259.01,325.00 258.58,325.00 258.15,325.00 257.72,325.00 257.29,325.00 256.86,325.00 256.43,325.00 256.00,325.00" fill="#9cbcdc" fill-opacity="0.85"/>
<polygon points="256.00,325.00 256.43,325.00 256.86,325.00 257.29,325.00 257.72,325.00 258.15,325.00 258.58,325.00 259.01,325.00 259.44,325.00 259.87,325.00 260.30,325.00 260.73,325.00 261.16,325.01 261.59,325.01 262.02,325.01 262.45,325.01 262.88,325.01 263.31,325.02 263.74,325.02 264.17,325.03 264.60,325.03 265.03,325.04 265.46,325.05 265.89,325.06 266.32,325.08 266.75,325.10 267.18,325.12 267.61,325.15 268.04,325.19 268.47,325.24 268.90,325.29 269.33,325.36 269.76,325.45 270.19,325.56 270.62,325.69 271.05,325.86 271.48,326.06 271.91,326.32 272.34,326.63 272.77,327.00 273.20,327.47 273.63,328.03 274.06,328.71 274.49,329.53 274.92,330.51 275.35,331.66 275.78,333.01 276.21,334.58 276.64,336.36 277.07,338.36 277.50,340.56 277.93,342.94 278.36,345.45 278.79,348.05 279.22,350.67 279.65,353.26 280.08,355.75 280.51,358.09 280.94,360.26 281.37,362.21 281.80,363.95 282.23,365.47 282.66,366.78 283.09,367.90 283.52,368.85 283.95,369.63 284.38,370.29 284.81,370.83 285.24,371.28 285.67,371.64 286.10,371.94 286.53,372.18 286.96,372.38 287.39,372.54 287.82,372.66 288.25,372.77 288.68,372.85 289.11,372.92 289.54,372.97 289.97,373.02 290.40,373.05 290.83,373.08 291.26,373.11 291.69,373.12 292.12,373.14 292.55,373.15 292.98,373.16 293.41,373.17 293.84,373.17 294.27,373.18 294.70,373.18 295.13,373.19 295.56,373.19 295.99,373.19 296.42,373.19 296.85,373.19 297.28,373.20 297.71,373.20 298.14,373.20 298.57,373.20 299.00,373.20 299.00,373.20 298.57,373.20 298.14,373.20 297.71,373.20 297.28,373.20 296.85,373.20 296.42,373.20 295.99,373.20 295.56,373.20 295.13,373.20 294.70,373.20 294.27,373.20 293.84,373.20 293.41,373.20 292.98,373.20 292.55,373.20 292.12,373.20 291.69,373.20 291.26,373.20 290.83,373.20 290.40,373.20 289.97,373.19 289.54,373.19 289.11,373.19 288.68,373.19 288.25,373.18 287.82,373.17 287.39,373.16 286.96,373.15 286.53,373.13 286.10,373.11 285.67,373.07 285.24,373.03 284.81,372.97 284.38,372.88 283.95,372.77 283.52,372.61 283.09,372.40 282.66,372.12 282.23,371.74 281.80,371.23 281.37,370.56 280.94,369.67 280.51,368.52 280.08,367.03 279.65,365.17 279.22,362.88 278.79,360.15 278.36,357.00 277.93,353.53 277.50,349.85 277.07,346.13 276.64,342.55 276.21,339.26 275.78,336.36 275.35,333.89 274.92,331.86 274.49,330.23 274.06,328.95 273.63,327.97 273.20,327.21 272.77,326.64 272.34,326.22 271.91,325.90 271.48,325.66 271.05,325.49 270.62,325.36 270.19,325.26 269.76,325.19 269.33,325.14 268.90,325.10 268.47,325.08 268.04,325.06 267.61,325.04 267.18,325.03 266.75,325.02 266.32,325.02 265.89,325.01 265.46,325.01 265.03,325.01 264.60,325.00 264.17,325.00 263.74,325.00 263.31,325.00 262.88,325.00 262.45,325.00 262.02,325.00 261.59,325.00 261.16,325.00 260.73,325.00 260.30,325.00 259.87,325.00 259.44,325.00 259.01,325.00 258.58,325.00 258.15,325.00 257.72,325.00 257.29,325.00 256.86,325.00 256.43,325.00 256.00,325.00" fill="#a498c4" fill-opacity="0.85"/>
<polygon points="256.00,325.00 256.43,325.00 256.86,325.00 257.29,325.00 257.72,325.00 258.15,325.00 258.58,325.00 259.01,325.00 259.44,325.00 259.87,325.00 260.30,325.01 260.73,325.01 261.16,325.01 261.59,325.01 262.02,325.02 262.45,325.02 262.88,325.03 263.31,325.04 263.74,325.05 264.17,325.06 264.60,325.08 265.03,325.10 265.46,325.13 265.89,325.17 266.32,325.21 266.75,325.28 267.18,325.35 267.61,325.46 268.04,325.59 268.47,325.76 268.90,325.97 269.33,326.25 269.76,326.60 270.19,327.05 270.62,327.61 271.05,328.32 271.48,329.20 271.91,330.28 272.34,331.61 272.77,333.21 273.20,335.10 273.63,337.28 274.06,339.76 274.49,342.50 274.92,345.44 275.35,348.48 275.78,351.55 276.21,354.54 276.64,357.37 277.07,359.96 277.50,362.26 277.93,364.27 278.36,365.98 278.79,367.42 279.22,368.59 279.65,369.55 280.08,370.33 280.51,370.94 280.94,371.43 281.37,371.82 281.80,372.12 282.23,372.36 282.66,372.55 283.09,372.69 283.52,372.81 283.95,372.90 284.38,372.96 284.81,373.02 285.24,373.06 285.67,373.09 286.10,373.11 286.53,373.13 286.96,373.15 287.39,373.16 287.82,373.17 288.25,373.18 288.68,373.18 289.11,373.19 289.54,373.19 289.97,373.19 290.40,373.19 290.83,373.19 291.26,373.20 291.69,373.20 292.12,373.20 292.55,373.20 292.98,373.20 293.41,373.20 293.84,373.20 294.27,373.20 294.70,373.20 295.13,373.20 295.56,373.20 295.99,373.20 296.42,373.20 296.85,373.20 297.28,373.20 297.71,373.20 298.14,373.20 298.57,373.20 299.00,373.20 299.00,373.20 298.57,373.20 298.14,373.20 297.71,373.20 297.28,373.20 296.85,373.20 296.42,373.20 295.99,373.20 295.56,373.20 295.13,373.20 294.70,373.20 294.27,373.20 293.84,373.20 293.41,373.20 292.98,373.20 292.55,373.20 292.12,373.20 291.69,373.20 291.26,373.20 290.83,373.20 290.40,373.20 289.97,373.20 289.54,373.20 289.11,373.20 288.68,373.20 288.25,373.20 287.82,373.20 287.39,373.20 286.96,373.20 286.53,373.20 286.10,373.20 285.67,373.20 285.24,373.19 284.81,373.19 284.38,373.19 283.95,373.18 283.52,373.17 283.09,373.16 282.66,373.14 282.23,373.12 281.80,373.08 281.37,373.03 280.94,372.96 280.51,372.86 280.08,372.71 279.65,372.50 279.22,372.19 278.79,371.77 278.36,371.16 277.93,370.33 277.50,369.18 277.07,367.62 276.64,365.56 276.21,362.93 275.78,359.70 275.35,355.91 274.92,351.71 274.49,347.35 274.06,343.11 273.63,339.22 273.20,335.87 272.77,333.12 272.34,330.95 271.91,329.30 271.48,328.08 271.05,327.18 270.62,326.54 270.19,326.08 269.76,325.76 269.33,325.53 268.90,325.37 268.47,325.26 268.04,325.18 267.61,325.12 267.18,325.09 266.75,325.06 266.32,325.04 265.89,325.03 265.46,325.02 265.03,325.01 264.60,325.01 264.17,325.01 263.74,325.00 263.31,325.00 262.88,325.00 262.45,325.00 262.02,325.00 261.59,325.00 261.16,325.00 260.73,325.00 260.30,325.00 259.87,325.00 259.44,325.00 259.01,325.00 258.58,325.00 258.15,325.00 257.72,325.00 257.29,325.00 256.86,325.00 256.43,325.00 256.00,325.00" fill="#555" fill-opacity="0.85"/>
<polyline points="256.00,325.00 256.43,325.00 256.86,325.00 257.29,325.00 257.72,325.00 258.15,325.00 258.58,325.00 259.01,325.00 259.44,325.00 259.87,325.00 260.30,325.00 260.73,325.00 261.16,325.00 261.59,325.00 262.02,325.00 262.45,325.00 262.88,325.01 263.31,325.01 263.74,325.01 264.17,325.01 264.60,325.01 265.03,325.01 265.46,325.02 265.89,325.02 266.32,325.03 266.75,325.03 267.18,325.04 267.61,325.05 268.04,325.06 268.47,325.08 268.90,325.09 269.33,325.11 269.76,325.14 270.19,325.17 270.62,325.21 271.05,325.26 271.48,325.32 271.91,325.40 272.34,325.49 272.77,325.60 273.20,325.74 273.63,325.90 274.06,326.11 274.49,326.36 274.92,326.66 275.35,327.03 275.78,327.47 276.21,328.01 276.64,328.66 277.07,329.43 277.50,330.34 277.93,331.41 278.36,332.66 278.79,334.10 279.22,335.73 279.65,337.57 280.08,339.60 280.51,341.80 280.94,344.15 281.37,346.60 281.80,349.10 282.23,351.60 282.66,354.05 283.09,356.40 283.52,358.60 283.95,360.63 284.38,362.47 284.81,364.10 285.24,365.54 285.67,366.79 286.10,367.86 286.53,368.77 286.96,369.54 287.39,370.19 287.82,370.73 288.25,371.17 288.68,371.54 289.11,371.84 289.54,372.09 289.97,372.30 290.40,372.46 290.83,372.60 291.26,372.71 291.69,372.80 292.12,372.88 292.55,372.94 292.98,372.99 293.41,373.03 293.84,373.06 294.27,373.09 294.70,373.11 295.13,373.12 295.56,373.14 295.99,373.15 296.42,373.16 296.85,373.17 297.28,373.17 297.71,373.18 298.14,373.18 298.57,373.19 299.00,373.19" fill="none" stroke="#8fe0c0" stroke-width="1.0"/>
<polyline points="256.00,325.00 256.43,325.00 256.86,325.00 257.29,325.00 257.72,325.00 258.15,325.00 258.58,325.00 259.01,325.00 259.44,325.00 259.87,325.00 260.30,325.00 260.73,325.00 261.16,325.00 261.59,325.00 262.02,325.00 262.45,325.00 262.88,325.00 263.31,325.00 263.74,325.01 264.17,325.01 264.60,325.01 265.03,325.01 265.46,325.01 265.89,325.02 266.32,325.02 266.75,325.03 267.18,325.04 267.61,325.05 268.04,325.06 268.47,325.07 268.90,325.09 269.33,325.11 269.76,325.14 270.19,325.18 270.62,325.22 271.05,325.28 271.48,325.35 271.91,325.44 272.34,325.55 272.77,325.69 273.20,325.87 273.63,326.08 274.06,326.35 274.49,326.68 274.92,327.10 275.35,327.60 275.78,328.22 276.21,328.98 276.64,329.89 277.07,330.98 277.50,332.28 277.93,333.79 278.36,335.55 278.79,337.54 279.22,339.76 279.65,342.18 280.08,344.77 280.51,347.46 280.94,350.19 281.37,352.90 281.80,355.51 282.23,357.97 282.66,360.24 283.09,362.28 283.52,364.08 283.95,365.64 284.38,366.98 284.81,368.11 285.24,369.06 285.67,369.84 286.10,370.48 286.53,371.01 286.96,371.44 287.39,371.79 287.82,372.07 288.25,372.29 288.68,372.48 289.11,372.62 289.54,372.74 289.97,372.83 290.40,372.91 290.83,372.96 291.26,373.01 291.69,373.05 292.12,373.08 292.55,373.11 292.98,373.12 293.41,373.14 293.84,373.15 294.27,373.16 294.70,373.17 295.13,373.18 295.56,373.18 295.99,373.18 296.42,373.19 296.85,373.19 297.28,373.19 297.71,373.19 298.14,373.20 298.57,373.20 299.00,373.20" fill="none" stroke="#3fb8b8" stroke-width="1.0"/>
<polyline points="256.00,325.00 256.43,325.00 256.86,325.00 257.29,325.00 257.72,325.00 258.15,325.00 258.58,325.00 259.01,325.00 259.44,325.00 259.87,325.00 260.30,325.00 260.73,325.00 261.16,325.00 261.59,325.00 262.02,325.00 262.45,325.00 262.88,325.00 263.31,325.00 263.74,325.00 264.17,325.01 264.60,325.01 265.03,325.01 265.46,325.01 265.89,325.02 266.32,325.02 266.75,325.03 267.18,325.04 267.61,325.05 268.04,325.07 268.47,325.09 268.90,325.11 269.33,325.15 269.76,325.19 270.19,325.25 270.62,325.32 271.05,325.42 271.48,325.54 271.91,325.70 272.34,325.91 272.77,326.18 273.20,326.53 273.63,326.97 274.06,327.53 274.49,328.24 274.92,329.13 275.35,330.23 275.78,331.59 276.21,333.24 276.64,335.20 277.07,337.47 277.50,340.05 277.93,342.90 278.36,345.95 278.79,349.10 279.22,352.25 279.65,355.30 280.08,358.15 280.51,360.73 280.94,363.00 281.37,364.96 281.80,366.61 282.23,367.97 282.66,369.07 283.09,369.96 283.52,370.67 283.95,371.23 284.38,371.67 284.81,372.02 285.24,372.29 285.67,372.50 286.10,372.66 286.53,372.78 286.96,372.88 287.39,372.95 287.82,373.01 288.25,373.05 288.68,373.09 289.11,373.11 289.54,373.13 289.97,373.15 290.40,373.16 290.83,373.17 291.26,373.18 291.69,373.18 292.12,373.19 292.55,373.19 292.98,373.19 293.41,373.19 293.84,373.20 294.27,373.20 294.70,373.20 295.13,373.20 295.56,373.20 295.99,373.20 296.42,373.20 296.85,373.20 297.28,373.20 297.71,373.20 298.14,373.20 298.57,373.20 299.00,373.20" fill="none" stroke="#3f78b8" stroke-width="1.0"/>
<polyline points="256.00,325.00 256.43,325.00 256.86,325.00 257.29,325.00 257.72,325.00 258.15,325.00 258.58,325.00 259.01,325.00 259.44,325.00 259.87,325.00 260.30,325.00 260.73,325.00 261.16,325.00 261.59,325.00 262.02,325.00 262.45,325.00 262.88,325.00 263.31,325.00 263.74,325.00 264.17,325.00 264.60,325.01 265.03,325.01 265.46,325.01 265.89,325.01 266.32,325.02 266.75,325.02 267.18,325.03 267.61,325.04 268.04,325.06 268.47,325.07 268.90,325.10 269.33,325.13 269.76,325.18 270.19,325.24 270.62,325.32 271.05,325.43 271.48,325.58 271.91,325.77 272.34,326.03 272.77,326.37 273.20,326.82 273.63,327.42 274.06,328.19 274.49,329.19 274.92,330.45 275.35,332.05 275.78,334.01 276.21,336.36 276.64,339.11 277.07,342.21 277.50,345.58 277.93,349.10 278.36,352.62 278.79,355.99 279.22,359.09 279.65,361.84 280.08,364.19 280.51,366.15 280.94,367.75 281.37,369.01 281.80,370.01 282.23,370.78 282.66,371.38 283.09,371.83 283.52,372.17 283.95,372.43 284.38,372.62 284.81,372.77 285.24,372.88 285.67,372.96 286.10,373.02 286.53,373.07 286.96,373.10 287.39,373.13 287.82,373.14 288.25,373.16 288.68,373.17 289.11,373.18 289.54,373.18 289.97,373.19 290.40,373.19 290.83,373.19 291.26,373.19 291.69,373.20 292.12,373.20 292.55,373.20 292.98,373.20 293.41,373.20 293.84,373.20 294.27,373.20 294.70,373.20 295.13,373.20 295.56,373.20 295.99,373.20 296.42,373.20 296.85,373.20 297.28,373.20 297.71,373.20 298.14,373.20 298.57,373.20 299.00,373.20" fill="none" stroke="#48307a" stroke-width="1.0"/>
<polyline points="256.00,325.00 256.43,325.00 256.86,325.00 257.29,325.00 257.72,325.00 258.15,325.00 258.58,325.00 259.01,325.00 259.44,325.00 259.87,325.00 260.30,325.00 260.73,325.00 261.16,325.00 261.59,325.00 262.02,325.00 262.45,325.00 262.88,325.00 263.31,325.00 263.74,325.00 264.17,325.00 264.60,325.00 265.03,325.01 265.46,325.01 265.89,325.01 266.32,325.02 266.75,325.02 267.18,325.03 267.61,325.05 268.04,325.06 268.47,325.09 268.90,325.13 269.33,325.18 269.76,325.25 270.19,325.36 270.62,325.50 271.05,325.71 271.48,325.99 271.91,326.39 272.34,326.94 272.77,327.69 273.20,328.72 273.63,330.08 274.06,331.88 274.49,334.17 274.92,337.01 275.35,340.37 275.78,344.18 276.21,348.27 276.64,352.40 277.07,356.35 277.50,359.91 277.93,362.96 278.36,365.47 278.79,367.45 279.22,368.98 279.65,370.14 280.08,370.99 280.51,371.61 280.94,372.06 281.37,372.39 281.80,372.62 282.23,372.79 282.66,372.91 283.09,372.99 283.52,373.05 283.95,373.10 284.38,373.13 284.81,373.15 285.24,373.16 285.67,373.17 286.10,373.18 286.53,373.19 286.96,373.19 287.39,373.19 287.82,373.20 288.25,373.20 288.68,373.20 289.11,373.20 289.54,373.20 289.97,373.20 290.40,373.20 290.83,373.20 291.26,373.20 291.69,373.20 292.12,373.20 292.55,373.20 292.98,373.20 293.41,373.20 293.84,373.20 294.27,373.20 294.70,373.20 295.13,373.20 295.56,373.20 295.99,373.20 296.42,373.20 296.85,373.20 297.28,373.20 297.71,373.20 298.14,373.20 298.57,373.20 299.00,373.20" fill="none" stroke="#fff" stroke-width="0.55"/>
<polyline points="256.00,325.00 256.43,325.00 256.86,325.00 257.29,325.00 257.72,325.00 258.15,325.00 258.58,325.00 259.01,325.00 259.44,325.00 259.87,325.00 260.30,325.00 260.73,325.00 261.16,325.00 261.59,325.00 262.02,325.00 262.45,325.00 262.88,325.00 263.31,325.00 263.74,325.01 264.17,325.01 264.60,325.01 265.03,325.02 265.46,325.02 265.89,325.03 266.32,325.05 266.75,325.07 267.18,325.10 267.61,325.14 268.04,325.19 268.47,325.27 268.90,325.38 269.33,325.54 269.76,325.76 270.19,326.06 270.62,326.49 271.05,327.07 271.48,327.87 271.91,328.96 272.34,330.41 272.77,332.29 273.20,334.69 273.63,337.64 274.06,341.10 274.49,344.99 274.92,349.10 275.35,353.21 275.78,357.10 276.21,360.56 276.64,363.51 277.07,365.91 277.50,367.79 277.93,369.24 278.36,370.33 278.79,371.13 279.22,371.71 279.65,372.14 280.08,372.44 280.51,372.66 280.94,372.82 281.37,372.93 281.80,373.01 282.23,373.06 282.66,373.10 283.09,373.13 283.52,373.15 283.95,373.17 284.38,373.18 284.81,373.18 285.24,373.19 285.67,373.19 286.10,373.19 286.53,373.20 286.96,373.20 287.39,373.20 287.82,373.20 288.25,373.20 288.68,373.20 289.11,373.20 289.54,373.20 289.97,373.20 290.40,373.20 290.83,373.20 291.26,373.20 291.69,373.20 292.12,373.20 292.55,373.20 292.98,373.20 293.41,373.20 293.84,373.20 294.27,373.20 294.70,373.20 295.13,373.20 295.56,373.20 295.99,373.20 296.42,373.20 296.85,373.20 297.28,373.20 297.71,373.20 298.14,373.20 298.57,373.20 299.00,373.20" fill="none" stroke="#0a0a10" stroke-width="1.5"/>
<path d="M255.2,322.8 L255.2,375 L300.6,375" fill="none" stroke="#000" stroke-width="0.75"/>
<line x1="256.00" y1="375" x2="256.00" y2="376" stroke="#222" stroke-width="0.4"/>
<text x="256.0" y="380.4" font-size="3.1" text-anchor="middle"  class="t"><tspan>20</tspan></text>
<line x1="264.60" y1="375" x2="264.60" y2="376" stroke="#222" stroke-width="0.4"/>
<text x="264.6" y="380.4" font-size="3.1" text-anchor="middle"  class="t"><tspan>30</tspan></text>
<line x1="273.20" y1="375" x2="273.20" y2="376" stroke="#222" stroke-width="0.4"/>
<text x="273.2" y="380.4" font-size="3.1" text-anchor="middle"  class="t"><tspan>40</tspan></text>
<line x1="281.80" y1="375" x2="281.80" y2="376" stroke="#222" stroke-width="0.4"/>
<text x="281.8" y="380.4" font-size="3.1" text-anchor="middle"  class="t"><tspan>50</tspan></text>
<line x1="290.40" y1="375" x2="290.40" y2="376" stroke="#222" stroke-width="0.4"/>
<text x="290.4" y="380.4" font-size="3.1" text-anchor="middle"  class="t"><tspan>60</tspan></text>
<line x1="299.00" y1="375" x2="299.00" y2="376" stroke="#222" stroke-width="0.4"/>
<text x="299.0" y="380.4" font-size="3.1" text-anchor="middle"  class="t"><tspan>70</tspan></text>
<line x1="254.2" y1="373.20" x2="255.2" y2="373.20" stroke="#222" stroke-width="0.4"/>
<text x="253.6" y="374.3" font-size="3.1" text-anchor="end"  class="t"><tspan>0.00</tspan></text>
<line x1="254.2" y1="361.15" x2="255.2" y2="361.15" stroke="#222" stroke-width="0.4"/>
<text x="253.6" y="362.25" font-size="3.1" text-anchor="end"  class="t"><tspan>0.25</tspan></text>
<line x1="254.2" y1="349.10" x2="255.2" y2="349.10" stroke="#222" stroke-width="0.4"/>
<text x="253.6" y="350.20000000000005" font-size="3.1" text-anchor="end"  class="t"><tspan>0.50</tspan></text>
<line x1="254.2" y1="337.05" x2="255.2" y2="337.05" stroke="#222" stroke-width="0.4"/>
<text x="253.6" y="338.15000000000003" font-size="3.1" text-anchor="end"  class="t"><tspan>0.75</tspan></text>
<line x1="254.2" y1="325.00" x2="255.2" y2="325.00" stroke="#222" stroke-width="0.4"/>
<text x="253.6" y="326.1" font-size="3.1" text-anchor="end"  class="t"><tspan>1.00</tspan></text>
<text x="277.5" y="386.0" font-size="4.4" text-anchor="middle"  class="m"><tspan>Temperature (°C)</tspan></text>
<text x="292.8" y="328.52" font-size="4.7" text-anchor="start"  class="m"><tspan font-style="italic">T</tspan><tspan font-size="2.91" dy="1.22" dx="0.14">10</tspan></text>
<text x="292.8" y="347.8" font-size="4.7" text-anchor="start"  class="m"><tspan font-style="italic">T</tspan><tspan font-size="2.91" dy="1.22" dx="0.14">50</tspan></text>
<text x="292.8" y="367.08" font-size="4.7" text-anchor="start"  class="m"><tspan font-style="italic">T</tspan><tspan font-size="2.91" dy="1.22" dx="0.14">90</tspan></text>
<text transform="translate(243.6,349) rotate(-90)" class="m" font-size="4.2" text-anchor="middle">Proportional <tspan font-style="italic">F</tspan><tspan font-size="2.8" dy="0.8">V</tspan><tspan dy="-0.8">/</tspan><tspan font-style="italic">F</tspan><tspan font-size="2.8" dy="0.8">M</tspan></text>
<line x1="320.2" y1="356.86" x2="366.1" y2="356.86" stroke="#666" stroke-width="0.5" stroke-dasharray="1.5,1.6"/>
<polygon points="321.30,325.31 321.73,325.32 322.16,325.33 322.60,325.34 323.03,325.35 323.46,325.37 323.89,325.38 324.32,325.40 324.76,325.42 325.19,325.44 325.62,325.47 326.05,325.49 326.48,325.52 326.92,325.55 327.35,325.59 327.78,325.62 328.21,325.66 328.64,325.71 329.08,325.76 329.51,325.81 329.94,325.87 330.37,325.93 330.80,326.00 331.24,326.08 331.67,326.16 332.10,326.25 332.53,326.35 332.96,326.46 333.40,326.58 333.83,326.71 334.26,326.85 334.69,327.00 335.12,327.17 335.56,327.35 335.99,327.55 336.42,327.77 336.85,328.00 337.28,328.26 337.72,328.53 338.15,328.83 338.58,329.16 339.01,329.51 339.44,329.88 339.88,330.29 340.31,330.73 340.74,331.20 341.17,331.70 341.60,332.24 342.04,332.81 342.47,333.42 342.90,334.07 343.33,334.76 343.76,335.49 344.20,336.26 344.63,337.06 345.06,337.91 345.49,338.79 345.92,339.71 346.36,340.66 346.79,341.65 347.22,342.66 347.65,343.70 348.08,344.76 348.52,345.84 348.95,346.94 349.38,348.04 349.81,349.15 350.24,350.26 350.68,351.36 351.11,352.46 351.54,353.54 351.97,354.60 352.40,355.64 352.84,356.65 353.27,357.64 353.70,358.59 354.13,359.51 354.56,360.39 355.00,361.24 355.43,362.04 355.86,362.81 356.29,363.54 356.72,364.23 357.16,364.88 357.59,365.49 358.02,366.06 358.45,366.60 358.88,367.10 359.32,367.57 359.75,368.01 360.18,368.42 360.61,368.79 361.04,369.14 361.48,369.47 361.91,369.77 362.34,370.04 362.77,370.30 363.20,370.53 363.64,370.75 364.07,370.95 364.50,371.13 364.50,372.96 364.07,372.94 363.64,372.92 363.20,372.90 362.77,372.87 362.34,372.84 361.91,372.80 361.48,372.76 361.04,372.71 360.61,372.66 360.18,372.59 359.75,372.52 359.32,372.44 358.88,372.35 358.45,372.25 358.02,372.13 357.59,372.00 357.16,371.85 356.72,371.68 356.29,371.48 355.86,371.27 355.43,371.02 355.00,370.74 354.56,370.43 354.13,370.08 353.70,369.68 353.27,369.24 352.84,368.75 352.40,368.20 351.97,367.59 351.54,366.91 351.11,366.17 350.68,365.35 350.24,364.46 349.81,363.48 349.38,362.43 348.95,361.30 348.52,360.09 348.08,358.81 347.65,357.46 347.22,356.04 346.79,354.57 346.36,353.05 345.92,351.51 345.49,349.94 345.06,348.36 344.63,346.79 344.20,345.25 343.76,343.73 343.33,342.26 342.90,340.84 342.47,339.49 342.04,338.21 341.60,337.00 341.17,335.87 340.74,334.82 340.31,333.84 339.88,332.95 339.44,332.13 339.01,331.39 338.58,330.71 338.15,330.10 337.72,329.55 337.28,329.06 336.85,328.62 336.42,328.22 335.99,327.87 335.56,327.56 335.12,327.28 334.69,327.03 334.26,326.82 333.83,326.62 333.40,326.45 332.96,326.30 332.53,326.17 332.10,326.05 331.67,325.95 331.24,325.86 330.80,325.78 330.37,325.71 329.94,325.64 329.51,325.59 329.08,325.54 328.64,325.50 328.21,325.46 327.78,325.43 327.35,325.40 326.92,325.38 326.48,325.36 326.05,325.34 325.62,325.32 325.19,325.31 324.76,325.29 324.32,325.28 323.89,325.27 323.46,325.26 323.03,325.25 322.60,325.25 322.16,325.24 321.73,325.24 321.30,325.23" fill="#c4f0dc" fill-opacity="0.85"/>
<polygon points="321.30,325.33 321.73,325.34 322.16,325.36 322.60,325.37 323.03,325.39 323.46,325.41 323.89,325.43 324.32,325.46 324.76,325.48 325.19,325.51 325.62,325.55 326.05,325.58 326.48,325.62 326.92,325.67 327.35,325.71 327.78,325.77 328.21,325.83 328.64,325.89 329.08,325.96 329.51,326.04 329.94,326.13 330.37,326.22 330.80,326.33 331.24,326.45 331.67,326.57 332.10,326.71 332.53,326.87 332.96,327.03 333.40,327.22 333.83,327.42 334.26,327.64 334.69,327.89 335.12,328.15 335.56,328.44 335.99,328.76 336.42,329.10 336.85,329.48 337.28,329.88 337.72,330.32 338.15,330.80 338.58,331.31 339.01,331.87 339.44,332.46 339.88,333.10 340.31,333.79 340.74,334.51 341.17,335.29 341.60,336.11 342.04,336.97 342.47,337.89 342.90,338.84 343.33,339.84 343.76,340.87 344.20,341.95 344.63,343.05 345.06,344.19 345.49,345.35 345.92,346.52 346.36,347.71 346.79,348.91 347.22,350.11 347.65,351.30 348.08,352.48 348.52,353.65 348.95,354.80 349.38,355.91 349.81,357.00 350.24,358.05 350.68,359.07 351.11,360.04 351.54,360.97 351.97,361.85 352.40,362.69 352.84,363.48 353.27,364.23 353.70,364.93 354.13,365.59 354.56,366.20 355.00,366.77 355.43,367.30 355.86,367.79 356.29,368.24 356.72,368.66 357.16,369.05 357.59,369.41 358.02,369.73 358.45,370.03 358.88,370.31 359.32,370.56 359.75,370.79 360.18,371.00 360.61,371.19 361.04,371.37 361.48,371.53 361.91,371.67 362.34,371.81 362.77,371.93 363.20,372.04 363.64,372.13 364.07,372.22 364.50,372.31 364.50,373.05 364.07,373.05 363.64,373.04 363.20,373.03 362.77,373.02 362.34,373.00 361.91,372.99 361.48,372.97 361.04,372.95 360.61,372.93 360.18,372.90 359.75,372.87 359.32,372.84 358.88,372.80 358.45,372.75 358.02,372.70 357.59,372.64 357.16,372.57 356.72,372.49 356.29,372.40 355.86,372.29 355.43,372.17 355.00,372.04 354.56,371.88 354.13,371.69 353.70,371.49 353.27,371.25 352.84,370.98 352.40,370.67 351.97,370.32 351.54,369.93 351.11,369.48 350.68,368.97 350.24,368.40 349.81,367.77 349.38,367.05 348.95,366.26 348.52,365.38 348.08,364.42 347.65,363.36 347.22,362.21 346.79,360.97 346.36,359.63 345.92,358.21 345.49,356.72 345.06,355.15 344.63,353.53 344.20,351.86 343.76,350.17 343.33,348.47 342.90,346.77 342.47,345.10 342.04,343.47 341.60,341.89 341.17,340.38 340.74,338.94 340.31,337.59 339.88,336.33 339.44,335.16 339.01,334.09 338.58,333.10 338.15,332.21 337.72,331.40 337.28,330.67 336.85,330.02 336.42,329.44 335.99,328.92 335.56,328.46 335.12,328.05 334.69,327.69 334.26,327.38 333.83,327.10 333.40,326.86 332.96,326.64 332.53,326.46 332.10,326.29 331.67,326.15 331.24,326.03 330.80,325.92 330.37,325.83 329.94,325.74 329.51,325.67 329.08,325.61 328.64,325.56 328.21,325.51 327.78,325.47 327.35,325.43 326.92,325.40 326.48,325.38 326.05,325.35 325.62,325.33 325.19,325.31 324.76,325.30 324.32,325.29 323.89,325.27 323.46,325.27 323.03,325.26 322.60,325.25 322.16,325.24 321.73,325.24 321.30,325.23" fill="#9cdcdc" fill-opacity="0.85"/>
<polygon points="321.30,325.33 321.73,325.35 322.16,325.36 322.60,325.38 323.03,325.40 323.46,325.43 323.89,325.46 324.32,325.49 324.76,325.52 325.19,325.56 325.62,325.60 326.05,325.65 326.48,325.70 326.92,325.76 327.35,325.82 327.78,325.89 328.21,325.97 328.64,326.07 329.08,326.17 329.51,326.28 329.94,326.40 330.37,326.54 330.80,326.70 331.24,326.87 331.67,327.06 332.10,327.27 332.53,327.50 332.96,327.76 333.40,328.05 333.83,328.36 334.26,328.71 334.69,329.10 335.12,329.52 335.56,329.98 335.99,330.48 336.42,331.04 336.85,331.64 337.28,332.29 337.72,332.99 338.15,333.75 338.58,334.57 339.01,335.44 339.44,336.38 339.88,337.37 340.31,338.41 340.74,339.51 341.17,340.66 341.60,341.86 342.04,343.10 342.47,344.38 342.90,345.68 343.33,347.01 343.76,348.34 344.20,349.69 344.63,351.03 345.06,352.36 345.49,353.66 345.92,354.95 346.36,356.19 346.79,357.40 347.22,358.56 347.65,359.67 348.08,360.73 348.52,361.73 348.95,362.67 349.38,363.56 349.81,364.39 350.24,365.16 350.68,365.88 351.11,366.54 351.54,367.15 351.97,367.71 352.40,368.22 352.84,368.69 353.27,369.12 353.70,369.51 354.13,369.87 354.56,370.19 355.00,370.48 355.43,370.75 355.86,370.99 356.29,371.20 356.72,371.40 357.16,371.57 357.59,371.73 358.02,371.87 358.45,372.00 358.88,372.11 359.32,372.22 359.75,372.31 360.18,372.39 360.61,372.46 361.04,372.53 361.48,372.59 361.91,372.64 362.34,372.69 362.77,372.74 363.20,372.77 363.64,372.81 364.07,372.84 364.50,372.87 364.50,373.09 364.07,373.09 363.64,373.09 363.20,373.08 362.77,373.08 362.34,373.08 361.91,373.07 361.48,373.07 361.04,373.06 360.61,373.06 360.18,373.05 359.75,373.04 359.32,373.03 358.88,373.02 358.45,373.00 358.02,372.98 357.59,372.97 357.16,372.94 356.72,372.91 356.29,372.88 355.86,372.85 355.43,372.80 355.00,372.75 354.56,372.69 354.13,372.62 353.70,372.54 353.27,372.44 352.84,372.33 352.40,372.20 351.97,372.05 351.54,371.87 351.11,371.66 350.68,371.42 350.24,371.15 349.81,370.82 349.38,370.45 348.95,370.02 348.52,369.53 348.08,368.97 347.65,368.33 347.22,367.60 346.79,366.77 346.36,365.84 345.92,364.80 345.49,363.65 345.06,362.38 344.63,361.00 344.20,359.50 343.76,357.89 343.33,356.19 342.90,354.41 342.47,352.56 342.04,350.68 341.60,348.77 341.17,346.87 340.74,344.99 340.31,343.17 339.88,341.42 339.44,339.75 339.01,338.19 338.58,336.73 338.15,335.40 337.72,334.17 337.28,333.07 336.85,332.08 336.42,331.19 335.99,330.40 335.56,329.71 335.12,329.10 334.69,328.56 334.26,328.10 333.83,327.69 333.40,327.34 332.96,327.04 332.53,326.78 332.10,326.55 331.67,326.36 331.24,326.19 330.80,326.05 330.37,325.92 329.94,325.82 329.51,325.73 329.08,325.65 328.64,325.58 328.21,325.53 327.78,325.48 327.35,325.44 326.92,325.40 326.48,325.37 326.05,325.35 325.62,325.33 325.19,325.31 324.76,325.29 324.32,325.28 323.89,325.27 323.46,325.26 323.03,325.25 322.60,325.24 322.16,325.24 321.73,325.23 321.30,325.23" fill="#9cbcdc" fill-opacity="0.85"/>
<polygon points="321.30,325.34 321.73,325.36 322.16,325.38 322.60,325.40 323.03,325.42 323.46,325.45 323.89,325.49 324.32,325.52 324.76,325.57 325.19,325.61 325.62,325.67 326.05,325.73 326.48,325.80 326.92,325.88 327.35,325.96 327.78,326.06 328.21,326.17 328.64,326.30 329.08,326.44 329.51,326.60 329.94,326.77 330.37,326.97 330.80,327.20 331.24,327.45 331.67,327.72 332.10,328.04 332.53,328.38 332.96,328.77 333.40,329.20 333.83,329.68 334.26,330.21 334.69,330.79 335.12,331.43 335.56,332.13 335.99,332.89 336.42,333.72 336.85,334.62 337.28,335.59 337.72,336.63 338.15,337.74 338.58,338.91 339.01,340.15 339.44,341.45 339.88,342.80 340.31,344.20 340.74,345.63 341.17,347.09 341.60,348.56 342.04,350.04 342.47,351.51 342.90,352.96 343.33,354.39 343.76,355.77 344.20,357.11 344.63,358.40 345.06,359.63 345.49,360.79 345.92,361.89 346.36,362.91 346.79,363.87 347.22,364.75 347.65,365.57 348.08,366.32 348.52,367.01 348.95,367.63 349.38,368.20 349.81,368.72 350.24,369.19 350.68,369.61 351.11,369.99 351.54,370.33 351.97,370.63 352.40,370.91 352.84,371.15 353.27,371.37 353.70,371.56 354.13,371.74 354.56,371.89 355.00,372.03 355.43,372.15 355.86,372.26 356.29,372.36 356.72,372.44 357.16,372.52 357.59,372.58 358.02,372.64 358.45,372.70 358.88,372.74 359.32,372.78 359.75,372.82 360.18,372.85 360.61,372.88 361.04,372.91 361.48,372.93 361.91,372.95 362.34,372.97 362.77,372.98 363.20,373.00 363.64,373.01 364.07,373.02 364.50,373.03 364.50,373.10 364.07,373.10 363.64,373.10 363.20,373.10 362.77,373.09 362.34,373.09 361.91,373.09 361.48,373.09 361.04,373.09 360.61,373.09 360.18,373.09 359.75,373.08 359.32,373.08 358.88,373.08 358.45,373.07 358.02,373.07 357.59,373.06 357.16,373.05 356.72,373.04 356.29,373.03 355.86,373.02 355.43,373.00 355.00,372.98 354.56,372.96 354.13,372.93 353.70,372.90 353.27,372.86 352.84,372.82 352.40,372.76 351.97,372.70 351.54,372.62 351.11,372.53 350.68,372.42 350.24,372.30 349.81,372.14 349.38,371.97 348.95,371.75 348.52,371.51 348.08,371.21 347.65,370.87 347.22,370.46 346.79,369.99 346.36,369.44 345.92,368.80 345.49,368.06 345.06,367.21 344.63,366.24 344.20,365.15 343.76,363.91 343.33,362.54 342.90,361.03 342.47,359.38 342.04,357.60 341.60,355.70 341.17,353.72 340.74,351.66 340.31,349.57 339.88,347.47 339.44,345.40 339.01,343.38 338.58,341.45 338.15,339.62 337.72,337.92 337.28,336.35 336.85,334.92 336.42,333.63 335.99,332.48 335.56,331.46 335.12,330.57 334.69,329.79 334.26,329.11 333.83,328.52 333.40,328.02 332.96,327.59 332.53,327.22 332.10,326.91 331.67,326.64 331.24,326.41 330.80,326.22 330.37,326.06 329.94,325.93 329.51,325.81 329.08,325.71 328.64,325.63 328.21,325.56 327.78,325.50 327.35,325.46 326.92,325.41 326.48,325.38 326.05,325.35 325.62,325.33 325.19,325.31 324.76,325.29 324.32,325.28 323.89,325.26 323.46,325.25 323.03,325.24 322.60,325.24 322.16,325.23 321.73,325.23 321.30,325.22" fill="#a498c4" fill-opacity="0.85"/>
<polygon points="321.30,325.34 321.73,325.36 322.16,325.39 322.60,325.41 323.03,325.45 323.46,325.48 323.89,325.52 324.32,325.57 324.76,325.62 325.19,325.69 325.62,325.76 326.05,325.84 326.48,325.93 326.92,326.03 327.35,326.15 327.78,326.29 328.21,326.45 328.64,326.63 329.08,326.83 329.51,327.06 329.94,327.32 330.37,327.62 330.80,327.95 331.24,328.33 331.67,328.75 332.10,329.23 332.53,329.77 332.96,330.37 333.40,331.04 333.83,331.78 334.26,332.59 334.69,333.49 335.12,334.47 335.56,335.54 335.99,336.70 336.42,337.94 336.85,339.26 337.28,340.66 337.72,342.13 338.15,343.66 338.58,345.24 339.01,346.86 339.44,348.49 339.88,350.14 340.31,351.77 340.74,353.38 341.17,354.95 341.60,356.47 342.04,357.92 342.47,359.31 342.90,360.61 343.33,361.84 343.76,362.98 344.20,364.03 344.63,364.99 345.06,365.88 345.49,366.68 345.92,367.40 346.36,368.06 346.79,368.64 347.22,369.17 347.65,369.64 348.08,370.05 348.52,370.42 348.95,370.75 349.38,371.04 349.81,371.29 350.24,371.51 350.68,371.71 351.11,371.89 351.54,372.04 351.97,372.17 352.40,372.29 352.84,372.39 353.27,372.48 353.70,372.56 354.13,372.63 354.56,372.69 355.00,372.74 355.43,372.79 355.86,372.83 356.29,372.86 356.72,372.89 357.16,372.92 357.59,372.94 358.02,372.96 358.45,372.98 358.88,372.99 359.32,373.01 359.75,373.02 360.18,373.03 360.61,373.04 361.04,373.05 361.48,373.05 361.91,373.06 362.34,373.06 362.77,373.07 363.20,373.07 363.64,373.08 364.07,373.08 364.50,373.08 364.50,373.10 364.07,373.10 363.64,373.10 363.20,373.10 362.77,373.10 362.34,373.10 361.91,373.10 361.48,373.10 361.04,373.10 360.61,373.10 360.18,373.10 359.75,373.10 359.32,373.10 358.88,373.09 358.45,373.09 358.02,373.09 357.59,373.09 357.16,373.09 356.72,373.09 356.29,373.08 355.86,373.08 355.43,373.07 355.00,373.07 354.56,373.06 354.13,373.05 353.70,373.04 353.27,373.03 352.84,373.02 352.40,373.00 351.97,372.98 351.54,372.95 351.11,372.92 350.68,372.88 350.24,372.84 349.81,372.78 349.38,372.71 348.95,372.63 348.52,372.53 348.08,372.41 347.65,372.27 347.22,372.09 346.79,371.88 346.36,371.63 345.92,371.32 345.49,370.96 345.06,370.52 344.63,370.00 344.20,369.38 343.76,368.66 343.33,367.81 342.90,366.82 342.47,365.68 342.04,364.37 341.60,362.89 341.17,361.24 340.74,359.41 340.31,357.43 339.88,355.31 339.44,353.08 339.01,350.78 338.58,348.45 338.15,346.13 337.72,343.87 337.28,341.70 336.85,339.66 336.42,337.77 335.99,336.05 335.56,334.50 335.12,333.13 334.69,331.92 334.26,330.87 333.83,329.97 333.40,329.19 332.96,328.53 332.53,327.98 332.10,327.51 331.67,327.12 331.24,326.79 330.80,326.52 330.37,326.29 329.94,326.10 329.51,325.94 329.08,325.81 328.64,325.70 328.21,325.62 327.78,325.54 327.35,325.48 326.92,325.43 326.48,325.39 326.05,325.36 325.62,325.33 325.19,325.31 324.76,325.29 324.32,325.27 323.89,325.26 323.46,325.25 323.03,325.24 322.60,325.23 322.16,325.23 321.73,325.22 321.30,325.22" fill="#555" fill-opacity="0.85"/>
<polyline points="321.30,325.23 321.73,325.23 322.16,325.24 322.60,325.24 323.03,325.25 323.46,325.26 323.89,325.26 324.32,325.27 324.76,325.28 325.19,325.29 325.62,325.30 326.05,325.32 326.48,325.33 326.92,325.35 327.35,325.37 327.78,325.39 328.21,325.42 328.64,325.45 329.08,325.48 329.51,325.52 329.94,325.56 330.37,325.61 330.80,325.67 331.24,325.73 331.67,325.80 332.10,325.87 332.53,325.96 332.96,326.06 333.40,326.17 333.83,326.30 334.26,326.44 334.69,326.60 335.12,326.78 335.56,326.99 335.99,327.22 336.42,327.47 336.85,327.76 337.28,328.08 337.72,328.44 338.15,328.83 338.58,329.28 339.01,329.77 339.44,330.31 339.88,330.91 340.31,331.57 340.74,332.29 341.17,333.08 341.60,333.94 342.04,334.87 342.47,335.87 342.90,336.94 343.33,338.08 343.76,339.29 344.20,340.57 344.63,341.90 345.06,343.28 345.49,344.71 345.92,346.17 346.36,347.66 346.79,349.15 347.22,350.64 347.65,352.13 348.08,353.59 348.52,355.02 348.95,356.40 349.38,357.73 349.81,359.01 350.24,360.22 350.68,361.36 351.11,362.43 351.54,363.43 351.97,364.36 352.40,365.22 352.84,366.01 353.27,366.73 353.70,367.39 354.13,367.99 354.56,368.53 355.00,369.02 355.43,369.47 355.86,369.86 356.29,370.22 356.72,370.54 357.16,370.83 357.59,371.08 358.02,371.31 358.45,371.52 358.88,371.70 359.32,371.86 359.75,372.00 360.18,372.13 360.61,372.24 361.04,372.34 361.48,372.43 361.91,372.50 362.34,372.57 362.77,372.63 363.20,372.69 363.64,372.74 364.07,372.78 364.50,372.82" fill="none" stroke="#8fe0c0" stroke-width="1.0"/>
<polyline points="321.30,325.23 321.73,325.24 322.16,325.24 322.60,325.25 323.03,325.26 323.46,325.26 323.89,325.27 324.32,325.28 324.76,325.30 325.19,325.31 325.62,325.32 326.05,325.34 326.48,325.36 326.92,325.39 327.35,325.41 327.78,325.45 328.21,325.48 328.64,325.52 329.08,325.57 329.51,325.62 329.94,325.68 330.37,325.75 330.80,325.83 331.24,325.92 331.67,326.02 332.10,326.13 332.53,326.26 332.96,326.42 333.40,326.59 333.83,326.78 334.26,327.00 334.69,327.25 335.12,327.53 335.56,327.85 335.99,328.21 336.42,328.61 336.85,329.07 337.28,329.58 337.72,330.14 338.15,330.78 338.58,331.48 339.01,332.25 339.44,333.10 339.88,334.04 340.31,335.05 340.74,336.15 341.17,337.33 341.60,338.60 342.04,339.94 342.47,341.35 342.90,342.83 343.33,344.36 343.76,345.93 344.20,347.53 344.63,349.15 345.06,350.77 345.49,352.37 345.92,353.94 346.36,355.47 346.79,356.95 347.22,358.36 347.65,359.70 348.08,360.97 348.52,362.15 348.95,363.25 349.38,364.26 349.81,365.20 350.24,366.05 350.68,366.82 351.11,367.52 351.54,368.16 351.97,368.72 352.40,369.23 352.84,369.69 353.27,370.09 353.70,370.45 354.13,370.77 354.56,371.05 355.00,371.30 355.43,371.52 355.86,371.71 356.29,371.88 356.72,372.04 357.16,372.17 357.59,372.28 358.02,372.38 358.45,372.47 358.88,372.55 359.32,372.62 359.75,372.68 360.18,372.73 360.61,372.78 361.04,372.82 361.48,372.85 361.91,372.89 362.34,372.91 362.77,372.94 363.20,372.96 363.64,372.98 364.07,372.99 364.50,373.00" fill="none" stroke="#3fb8b8" stroke-width="1.0"/>
<polyline points="321.30,325.23 321.73,325.23 322.16,325.24 322.60,325.24 323.03,325.25 323.46,325.26 323.89,325.27 324.32,325.28 324.76,325.30 325.19,325.31 325.62,325.33 326.05,325.35 326.48,325.38 326.92,325.40 327.35,325.44 327.78,325.48 328.21,325.52 328.64,325.57 329.08,325.63 329.51,325.70 329.94,325.78 330.37,325.88 330.80,325.99 331.24,326.11 331.67,326.26 332.10,326.43 332.53,326.62 332.96,326.85 333.40,327.11 333.83,327.41 334.26,327.75 334.69,328.14 335.12,328.59 335.56,329.10 335.99,329.67 336.42,330.33 336.85,331.06 337.28,331.89 337.72,332.81 338.15,333.83 338.58,334.95 339.01,336.18 339.44,337.52 339.88,338.96 340.31,340.49 340.74,342.11 341.17,343.80 341.60,345.55 342.04,347.34 342.47,349.15 342.90,350.96 343.33,352.75 343.76,354.50 344.20,356.19 344.63,357.81 345.06,359.34 345.49,360.78 345.92,362.12 346.36,363.35 346.79,364.47 347.22,365.49 347.65,366.41 348.08,367.24 348.52,367.97 348.95,368.63 349.38,369.20 349.81,369.71 350.24,370.16 350.68,370.55 351.11,370.89 351.54,371.19 351.97,371.45 352.40,371.68 352.84,371.87 353.27,372.04 353.70,372.19 354.13,372.31 354.56,372.42 355.00,372.52 355.43,372.60 355.86,372.67 356.29,372.73 356.72,372.78 357.16,372.82 357.59,372.86 358.02,372.90 358.45,372.92 358.88,372.95 359.32,372.97 359.75,372.99 360.18,373.00 360.61,373.02 361.04,373.03 361.48,373.04 361.91,373.05 362.34,373.06 362.77,373.06 363.20,373.07 363.64,373.07 364.07,373.08 364.50,373.08" fill="none" stroke="#3f78b8" stroke-width="1.0"/>
<polyline points="321.30,325.23 321.73,325.23 322.16,325.24 322.60,325.24 323.03,325.25 323.46,325.26 323.89,325.27 324.32,325.28 324.76,325.30 325.19,325.32 325.62,325.34 326.05,325.37 326.48,325.39 326.92,325.43 327.35,325.47 327.78,325.52 328.21,325.58 328.64,325.65 329.08,325.73 329.51,325.82 329.94,325.93 330.37,326.06 330.80,326.21 331.24,326.39 331.67,326.60 332.10,326.85 332.53,327.14 332.96,327.47 333.40,327.86 333.83,328.31 334.26,328.83 334.69,329.43 335.12,330.12 335.56,330.91 335.99,331.80 336.42,332.81 336.85,333.94 337.28,335.19 337.72,336.57 338.15,338.08 338.58,339.71 339.01,341.45 339.44,343.28 339.88,345.19 340.31,347.16 340.74,349.15 341.17,351.14 341.60,353.11 342.04,355.02 342.47,356.85 342.90,358.59 343.33,360.22 343.76,361.73 344.20,363.11 344.63,364.36 345.06,365.49 345.49,366.50 345.92,367.39 346.36,368.18 346.79,368.87 347.22,369.47 347.65,369.99 348.08,370.44 348.52,370.83 348.95,371.16 349.38,371.45 349.81,371.70 350.24,371.91 350.68,372.09 351.11,372.24 351.54,372.37 351.97,372.48 352.40,372.57 352.84,372.65 353.27,372.72 353.70,372.78 354.13,372.83 354.56,372.87 355.00,372.91 355.43,372.93 355.86,372.96 356.29,372.98 356.72,373.00 357.16,373.02 357.59,373.03 358.02,373.04 358.45,373.05 358.88,373.06 359.32,373.06 359.75,373.07 360.18,373.07 360.61,373.08 361.04,373.08 361.48,373.08 361.91,373.09 362.34,373.09 362.77,373.09 363.20,373.09 363.64,373.09 364.07,373.09 364.50,373.09" fill="none" stroke="#48307a" stroke-width="1.0"/>
<polyline points="321.30,325.21 321.73,325.22 322.16,325.22 322.60,325.22 323.03,325.23 323.46,325.23 323.89,325.24 324.32,325.25 324.76,325.26 325.19,325.27 325.62,325.28 326.05,325.30 326.48,325.32 326.92,325.35 327.35,325.38 327.78,325.41 328.21,325.46 328.64,325.51 329.08,325.57 329.51,325.65 329.94,325.74 330.37,325.84 330.80,325.97 331.24,326.13 331.67,326.31 332.10,326.53 332.53,326.79 332.96,327.10 333.40,327.47 333.83,327.91 334.26,328.42 334.69,329.02 335.12,329.73 335.56,330.55 335.99,331.49 336.42,332.58 336.85,333.81 337.28,335.19 337.72,336.74 338.15,338.43 338.58,340.28 339.01,342.25 339.44,344.34 339.88,346.50 340.31,348.71 340.74,350.92 341.17,353.11 341.60,355.22 342.04,357.25 342.47,359.14 342.90,360.90 343.33,362.51 343.76,363.96 344.20,365.25 344.63,366.39 345.06,367.39 345.49,368.26 345.92,369.01 346.36,369.65 346.79,370.20 347.22,370.66 347.65,371.06 348.08,371.39 348.52,371.67 348.95,371.91 349.38,372.10 349.81,372.27 350.24,372.41 350.68,372.52 351.11,372.62 351.54,372.70 351.97,372.77 352.40,372.82 352.84,372.87 353.27,372.91 353.70,372.94 354.13,372.97 354.56,372.99 355.00,373.01 355.43,373.02 355.86,373.04 356.29,373.05 356.72,373.06 357.16,373.06 357.59,373.07 358.02,373.07 358.45,373.08 358.88,373.08 359.32,373.09 359.75,373.09 360.18,373.09 360.61,373.09 361.04,373.09 361.48,373.09 361.91,373.10 362.34,373.10 362.77,373.10 363.20,373.10 363.64,373.10 364.07,373.10 364.50,373.10" fill="none" stroke="#fff" stroke-width="0.55"/>
<polyline points="321.30,325.22 321.73,325.23 322.16,325.23 322.60,325.24 323.03,325.25 323.46,325.26 323.89,325.27 324.32,325.29 324.76,325.31 325.19,325.33 325.62,325.35 326.05,325.38 326.48,325.42 326.92,325.47 327.35,325.52 327.78,325.59 328.21,325.66 328.64,325.76 329.08,325.87 329.51,326.00 329.94,326.16 330.37,326.35 330.80,326.58 331.24,326.85 331.67,327.17 332.10,327.55 332.53,328.00 332.96,328.53 333.40,329.16 333.83,329.88 334.26,330.73 334.69,331.70 335.12,332.81 335.56,334.07 335.99,335.49 336.42,337.06 336.85,338.79 337.28,340.66 337.72,342.66 338.15,344.76 338.58,346.94 339.01,349.15 339.44,351.36 339.88,353.54 340.31,355.64 340.74,357.64 341.17,359.51 341.60,361.24 342.04,362.81 342.47,364.23 342.90,365.49 343.33,366.60 343.76,367.57 344.20,368.42 344.63,369.14 345.06,369.77 345.49,370.30 345.92,370.75 346.36,371.13 346.79,371.45 347.22,371.72 347.65,371.95 348.08,372.14 348.52,372.30 348.95,372.43 349.38,372.54 349.81,372.64 350.24,372.71 350.68,372.78 351.11,372.83 351.54,372.88 351.97,372.92 352.40,372.95 352.84,372.97 353.27,372.99 353.70,373.01 354.13,373.03 354.56,373.04 355.00,373.05 355.43,373.06 355.86,373.07 356.29,373.07 356.72,373.08 357.16,373.08 357.59,373.08 358.02,373.09 358.45,373.09 358.88,373.09 359.32,373.09 359.75,373.09 360.18,373.09 360.61,373.10 361.04,373.10 361.48,373.10 361.91,373.10 362.34,373.10 362.77,373.10 363.20,373.10 363.64,373.10 364.07,373.10 364.50,373.10" fill="none" stroke="#0a0a10" stroke-width="1.5"/>
<path d="M320.2,323.0 L320.2,375 L366.1,375" fill="none" stroke="#000" stroke-width="0.75"/>
<line x1="321.30" y1="375" x2="321.30" y2="376" stroke="#222" stroke-width="0.4"/>
<text x="321.3" y="380.4" font-size="3.1" text-anchor="middle"  class="t"><tspan>20</tspan></text>
<line x1="329.94" y1="375" x2="329.94" y2="376" stroke="#222" stroke-width="0.4"/>
<text x="329.94" y="380.4" font-size="3.1" text-anchor="middle"  class="t"><tspan>30</tspan></text>
<line x1="338.58" y1="375" x2="338.58" y2="376" stroke="#222" stroke-width="0.4"/>
<text x="338.58" y="380.4" font-size="3.1" text-anchor="middle"  class="t"><tspan>40</tspan></text>
<line x1="347.22" y1="375" x2="347.22" y2="376" stroke="#222" stroke-width="0.4"/>
<text x="347.22" y="380.4" font-size="3.1" text-anchor="middle"  class="t"><tspan>50</tspan></text>
<line x1="355.86" y1="375" x2="355.86" y2="376" stroke="#222" stroke-width="0.4"/>
<text x="355.86" y="380.4" font-size="3.1" text-anchor="middle"  class="t"><tspan>60</tspan></text>
<line x1="364.50" y1="375" x2="364.50" y2="376" stroke="#222" stroke-width="0.4"/>
<text x="364.5" y="380.4" font-size="3.1" text-anchor="middle"  class="t"><tspan>70</tspan></text>
<line x1="319.2" y1="373.10" x2="320.2" y2="373.10" stroke="#222" stroke-width="0.4"/>
<text x="318.59999999999997" y="374.20000000000005" font-size="3.1" text-anchor="end"  class="t"><tspan>0.0</tspan></text>
<line x1="319.2" y1="362.28" x2="320.2" y2="362.28" stroke="#222" stroke-width="0.4"/>
<text x="318.59999999999997" y="363.3751412429379" font-size="3.1" text-anchor="end"  class="t"><tspan>0.2</tspan></text>
<line x1="319.2" y1="351.45" x2="320.2" y2="351.45" stroke="#222" stroke-width="0.4"/>
<text x="318.59999999999997" y="352.55028248587575" font-size="3.1" text-anchor="end"  class="t"><tspan>0.4</tspan></text>
<line x1="319.2" y1="340.63" x2="320.2" y2="340.63" stroke="#222" stroke-width="0.4"/>
<text x="318.59999999999997" y="341.72542372881355" font-size="3.1" text-anchor="end"  class="t"><tspan>0.6</tspan></text>
<line x1="319.2" y1="329.80" x2="320.2" y2="329.80" stroke="#222" stroke-width="0.4"/>
<text x="318.59999999999997" y="330.9005649717514" font-size="3.1" text-anchor="end"  class="t"><tspan>0.8</tspan></text>
<text x="342.9" y="386.0" font-size="4.4" text-anchor="middle"  class="m"><tspan>Temperature (°C)</tspan></text>
<text x="356.8" y="355.4627118644068" font-size="4.7" text-anchor="start"  class="m"><tspan font-style="italic">T</tspan><tspan font-size="2.91" dy="1.22" dx="0.14">50</tspan></text>
<text transform="translate(309.6,349) rotate(-90)" class="m" font-size="3.7" text-anchor="middle">Post − heat treatment <tspan font-style="italic">F</tspan><tspan font-size="2.6" dy="0.8">V</tspan><tspan dy="-0.8">/</tspan><tspan font-style="italic">F</tspan><tspan font-size="2.6" dy="0.8">M</tspan></text>
<text x="247.5" y="395.4" font-size="4.1" text-anchor="start"  class="m"><tspan>Exposure duration (min)</tspan></text>
<rect x="292" y="388.6" width="6.4" height="6.4" fill="#c4f0dc"/>
<line x1="292.6" y1="391.8" x2="297.8" y2="391.8" stroke="#8fe0c0" stroke-width="1.1"/>
<text x="300" y="393.0" font-size="3.1" text-anchor="start"  class="t"><tspan>5</tspan></text>
<rect x="303.7" y="388.6" width="6.4" height="6.4" fill="#9cdcdc"/>
<line x1="304.3" y1="391.8" x2="309.5" y2="391.8" stroke="#3fb8b8" stroke-width="1.1"/>
<text x="311.7" y="393.0" font-size="3.1" text-anchor="start"  class="t"><tspan>15</tspan></text>
<rect x="317.5" y="388.6" width="6.4" height="6.4" fill="#9cbcdc"/>
<line x1="318.1" y1="391.8" x2="323.3" y2="391.8" stroke="#3f78b8" stroke-width="1.1"/>
<text x="325.5" y="393.0" font-size="3.1" text-anchor="start"  class="t"><tspan>30</tspan></text>
<rect x="331" y="388.6" width="6.4" height="6.4" fill="#a498c4"/>
<line x1="331.6" y1="391.8" x2="336.8" y2="391.8" stroke="#48307a" stroke-width="1.1"/>
<text x="339" y="393.0" font-size="3.1" text-anchor="start"  class="t"><tspan>60</tspan></text>
<rect x="345" y="388.6" width="6.4" height="6.4" fill="#555"/>
<line x1="345.6" y1="391.8" x2="350.8" y2="391.8" stroke="#0a0a10" stroke-width="1.1"/>
<text x="353" y="393.0" font-size="3.1" text-anchor="start"  class="t"><tspan>120</tspan></text>
<text x="366.2" y="314.1" font-size="7.58" text-anchor="start" ><tspan font-weight="bold">N</tspan><tspan>  TLS parameter derivation</tspan></text>
<polygon points="387.2,338.2 400,345.2 415,352.4 422,356.6 430,360.8 437,363.4 437,368.6 430,364.2 422,360.6 415,357.4 400,354 387.2,351.2" fill="#cfcfcf"/>
<line x1="387.2" y1="344.1" x2="437" y2="366" stroke="#000" stroke-width="1.2"/>
<circle cx="403.7" cy="352.1" r="0.95" fill="#000"/>
<circle cx="414.8" cy="354.3" r="0.95" fill="#000"/>
<circle cx="422.8" cy="359" r="0.95" fill="#000"/>
<circle cx="429.3" cy="361.9" r="0.95" fill="#000"/>
<circle cx="436.7" cy="365.6" r="0.95" fill="#000"/>
<path d="M384.4,322.5 L384.4,377.5 L438.9,377.5" fill="none" stroke="#000" stroke-width="0.75"/>
<line x1="387.2" y1="377.5" x2="387.2" y2="378.5" stroke="#222" stroke-width="0.4"/>
<text x="387.2" y="381.6" font-size="2.9" text-anchor="middle"  class="t"><tspan>1</tspan></text>
<line x1="403.7" y1="377.5" x2="403.7" y2="378.5" stroke="#222" stroke-width="0.4"/>
<text x="403.7" y="381.6" font-size="2.9" text-anchor="middle"  class="t"><tspan>5</tspan></text>
<line x1="414.8" y1="377.5" x2="414.8" y2="378.5" stroke="#222" stroke-width="0.4"/>
<text x="414.8" y="381.6" font-size="2.9" text-anchor="middle"  class="t"><tspan>15</tspan></text>
<line x1="422.8" y1="377.5" x2="422.8" y2="378.5" stroke="#222" stroke-width="0.4"/>
<text x="422.8" y="381.6" font-size="2.9" text-anchor="middle"  class="t"><tspan>30</tspan></text>
<line x1="429.3" y1="377.5" x2="429.3" y2="378.5" stroke="#222" stroke-width="0.4"/>
<text x="429.3" y="381.6" font-size="2.9" text-anchor="middle"  class="t"><tspan>60</tspan></text>
<line x1="436.7" y1="377.5" x2="436.7" y2="378.5" stroke="#222" stroke-width="0.4"/>
<text x="436.7" y="381.6" font-size="2.9" text-anchor="middle"  class="t"><tspan>120</tspan></text>
<line x1="383.4" y1="324.3" x2="384.4" y2="324.3" stroke="#222" stroke-width="0.4"/>
<text x="382.6" y="325.3" font-size="2.9" text-anchor="end"  class="t"><tspan>55</tspan></text>
<line x1="383.4" y1="341" x2="384.4" y2="341" stroke="#222" stroke-width="0.4"/>
<text x="382.6" y="342" font-size="2.9" text-anchor="end"  class="t"><tspan>50</tspan></text>
<line x1="383.4" y1="358.2" x2="384.4" y2="358.2" stroke="#222" stroke-width="0.4"/>
<text x="382.6" y="359.2" font-size="2.9" text-anchor="end"  class="t"><tspan>45</tspan></text>
<line x1="383.4" y1="374.9" x2="384.4" y2="374.9" stroke="#222" stroke-width="0.4"/>
<text x="382.6" y="375.9" font-size="2.9" text-anchor="end"  class="t"><tspan>40</tspan></text>
<text x="412" y="386.2" class="m" font-size="3.4" text-anchor="middle">log<tspan font-size="2.3" dy="0.6">10</tspan><tspan dy="-0.6"> Exposure duration(min)</tspan></text>
<text transform="translate(378.4,350) rotate(-90)" class="m" font-size="3.5" text-anchor="middle">Temperature threshold (°C)</text>
<text x="452.8" y="325.6" font-size="6.35" text-anchor="end" ><tspan>For </tspan><tspan font-style="italic">T</tspan><tspan font-size="3.94" dy="1.65" dx="0.19">50</tspan><tspan dy="-1.65" dx="0.38">:</tspan></text>
<text x="452.8" y="333.2" font-size="6.35" text-anchor="end" ><tspan font-style="italic">CT</tspan><tspan font-size="3.94" dy="1.65" dx="0.19">max_1m</tspan><tspan dy="-1.65" dx="0.38"> (°C) = 49.4</tspan></text>
<text x="452.8" y="340.6" font-size="6.35" text-anchor="end" ><tspan font-style="italic">CT</tspan><tspan font-size="3.94" dy="1.65" dx="0.19">max_1h</tspan><tspan dy="-1.65" dx="0.38"> (°C) = 44.1</tspan></text>
<text x="452.8" y="347.6" font-size="6.35" text-anchor="end" ><tspan font-style="italic">z</tspan><tspan> (slope) = −3.1</tspan></text>
</g></svg></body></html>
